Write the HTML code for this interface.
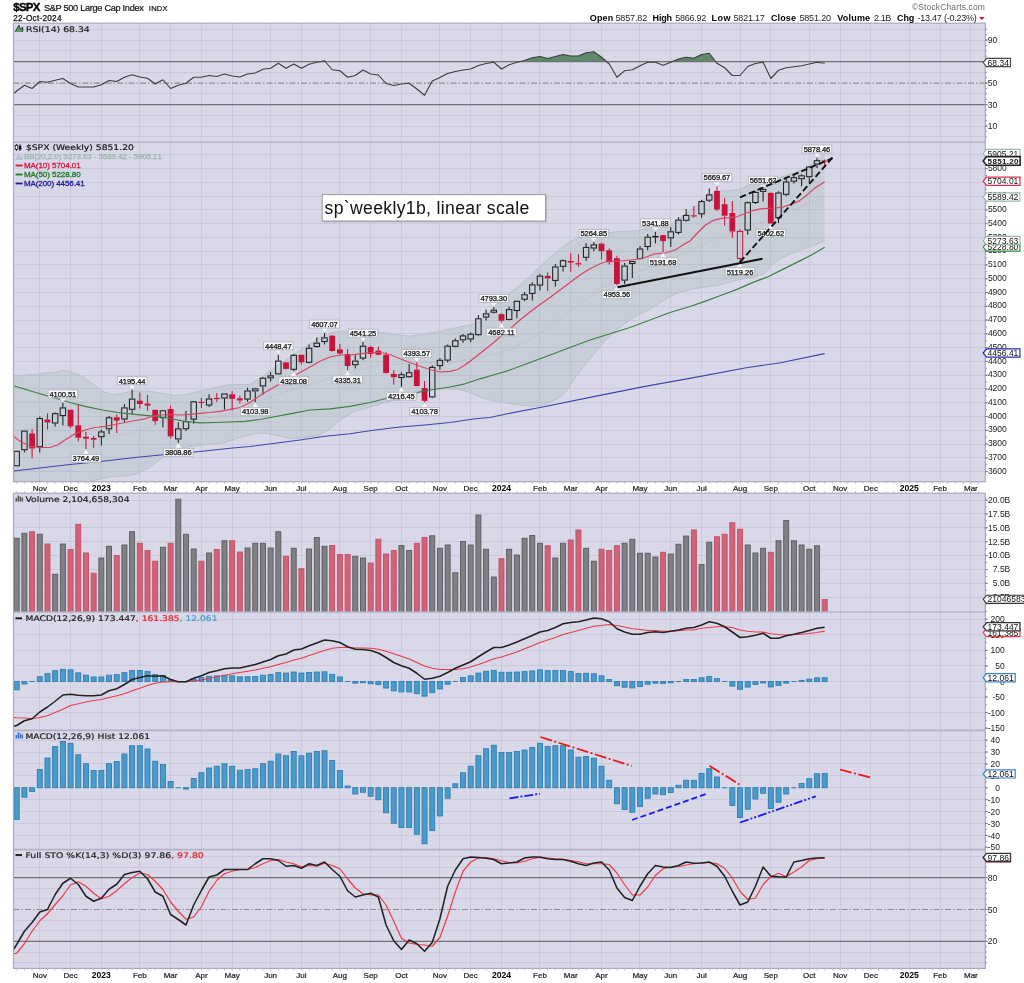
<!DOCTYPE html>
<html><head><meta charset="utf-8"><title>$SPX weekly</title>
<style>html,body{margin:0;padding:0;background:#fff}svg text{font-family:"Liberation Sans",sans-serif}</style></head>
<body>
<svg width="1024" height="983" viewBox="0 0 1024 983" style="display:block">
<rect width="1024" height="983" fill="#fff"/>
<rect x="13.5" y="23.2" width="971.8" height="458.5" fill="#d9d8e9"/>
<rect x="13.5" y="493.2" width="971.8" height="475.2" fill="#d9d8e9"/>
<path d="M13.5 29.5H985.3M13.5 40.5H985.3M13.5 50.5H985.3M13.5 72.5H985.3M13.5 93.5H985.3M13.5 115.5H985.3M13.5 126.5H985.3M13.5 136.5H985.3" stroke="#cac9dc" stroke-width="1" fill="none"/>
<path d="M13.5 471.5H985.3M13.5 457.5H985.3M13.5 444.5H985.3M13.5 430.5H985.3M13.5 416.5H985.3M13.5 402.5H985.3M13.5 388.5H985.3M13.5 375.5H985.3M13.5 361.5H985.3M13.5 347.5H985.3M13.5 333.5H985.3M13.5 320.5H985.3M13.5 306.5H985.3M13.5 292.5H985.3M13.5 278.5H985.3M13.5 264.5H985.3M13.5 251.5H985.3M13.5 237.5H985.3M13.5 223.5H985.3M13.5 209.5H985.3M13.5 196.5H985.3M13.5 182.5H985.3M13.5 168.5H985.3M13.5 154.5H985.3" stroke="#cac9dc" stroke-width="1" fill="none"/>
<path d="M13.5 597.5H985.3M13.5 583.5H985.3M13.5 569.5H985.3M13.5 555.5H985.3M13.5 541.5H985.3M13.5 527.5H985.3M13.5 513.5H985.3M13.5 500.5H985.3" stroke="#cac9dc" stroke-width="1" fill="none"/>
<path d="M13.5 619.5H985.3M13.5 634.5H985.3M13.5 650.5H985.3M13.5 665.5H985.3M13.5 681.5H985.3M13.5 697.5H985.3M13.5 712.5H985.3" stroke="#cac9dc" stroke-width="1" fill="none"/>
<path d="M13.5 740.5H985.3M13.5 752.5H985.3M13.5 763.5H985.3M13.5 775.5H985.3M13.5 787.5H985.3M13.5 799.5H985.3M13.5 811.5H985.3M13.5 823.5H985.3M13.5 835.5H985.3" stroke="#cac9dc" stroke-width="1" fill="none"/>
<path d="M13.5 856.5H985.3M13.5 867.5H985.3M13.5 888.5H985.3M13.5 898.5H985.3M13.5 920.5H985.3M13.5 930.5H985.3M13.5 952.5H985.3M13.5 962.5H985.3" stroke="#cac9dc" stroke-width="1" fill="none"/>
<path d="M39.5 23.2V481.7M39.5 493.2V968.4M70.5 23.2V481.7M70.5 493.2V968.4M101.5 23.2V481.7M101.5 493.2V968.4M139.5 23.2V481.7M139.5 493.2V968.4M170.5 23.2V481.7M170.5 493.2V968.4M201.5 23.2V481.7M201.5 493.2V968.4M232.5 23.2V481.7M232.5 493.2V968.4M270.5 23.2V481.7M270.5 493.2V968.4M301.5 23.2V481.7M301.5 493.2V968.4M339.5 23.2V481.7M339.5 493.2V968.4M370.5 23.2V481.7M370.5 493.2V968.4M401.5 23.2V481.7M401.5 493.2V968.4M439.5 23.2V481.7M439.5 493.2V968.4M470.5 23.2V481.7M470.5 493.2V968.4M501.5 23.2V481.7M501.5 493.2V968.4M539.5 23.2V481.7M539.5 493.2V968.4M570.5 23.2V481.7M570.5 493.2V968.4M601.5 23.2V481.7M601.5 493.2V968.4M639.5 23.2V481.7M639.5 493.2V968.4M670.5 23.2V481.7M670.5 493.2V968.4M701.5 23.2V481.7M701.5 493.2V968.4M740.5 23.2V481.7M740.5 493.2V968.4M770.5 23.2V481.7M770.5 493.2V968.4M809.5 23.2V481.7M809.5 493.2V968.4M840.5 23.2V481.7M840.5 493.2V968.4M870.5 23.2V481.7M870.5 493.2V968.4M909.5 23.2V481.7M909.5 493.2V968.4M940.5 23.2V481.7M940.5 493.2V968.4M970.5 23.2V481.7M970.5 493.2V968.4" stroke="#cac9dc" stroke-width="1" fill="none"/>
<g id="rsi">
<polygon points="320.14,61.6 324.5,60.75 325.23,61.6" fill="#5f8a6a"/>
<polygon points="519.73,61.6 524.57,60.5 532.27,57.75 539.96,56.5 547.66,58.5 555.35,56.5 563.05,54.5 570.74,56 578.44,56 586.13,52.75 593.83,51.75 601.52,57.25 606.48,61.6" fill="#5f8a6a"/>
<polygon points="672.31,61.6 678.47,59 686.17,57.25 693.86,58.25 701.56,54.5 709.25,53.25 715.68,61.6" fill="#5f8a6a"/>
<path d="M13.5 61.6H985.3M13.5 104.6H985.3" stroke="#707078" stroke-width="1.1" fill="none"/>
<path d="M13.5 83.1H985.3" stroke="#8c8c94" stroke-width="1.2" stroke-dasharray="6 2 1.5 2" fill="none"/>
<polyline points="13.5,93.5 16.7,91 24.39,85.25 32.09,88.5 39.78,81.5 47.48,82.25 55.17,80.25 62.87,78.5 70.56,83.5 78.26,87 85.95,87 93.65,87 101.35,84.75 109.04,80.5 116.73,81.5 124.43,77.25 132.12,74.75 139.82,77 147.51,78.25 155.21,84 162.91,79.75 170.6,88.5 178.29,85.25 185.99,83.25 193.69,77.25 201.38,77.25 209.07,75.5 216.77,76.5 224.47,74 232.16,76 239.85,77 247.55,74 255.25,73 262.94,69.25 270.63,68.25 278.33,63.25 286.02,68.25 293.72,64 301.42,68.25 309.11,64.25 316.81,62.25 324.5,60.75 332.19,69.75 339.89,70.75 347.58,77.25 355.28,75.5 362.98,70 370.67,74 378.37,75 386.06,83.5 393.75,85.5 401.45,84 409.14,83.25 416.84,89 424.54,95.25 432.23,81 439.93,77.5 447.62,73.5 455.31,71.5 463.01,70 470.7,69 478.4,65.5 486.1,63.5 493.79,62.25 501.49,69 509.18,64.75 516.88,62.25 524.57,60.5 532.27,57.75 539.96,56.5 547.66,58.5 555.35,56.5 563.05,54.5 570.74,56 578.44,56 586.13,52.75 593.83,51.75 601.52,57.25 609.22,64 616.91,77.25 624.61,70.75 632.3,69.75 640,65.75 647.69,62.25 655.39,62.25 663.08,65.25 670.78,62.25 678.47,59 686.17,57.25 693.86,58.25 701.56,54.5 709.25,53.25 716.95,63.25 724.64,67.75 732.34,75.5 740.03,75.5 747.73,66.5 755.42,63.5 763.12,62.25 770.81,78.5 778.51,70.25 786.2,67.75 793.9,66.75 801.59,65.75 809.29,64 816.98,62.25 824.68,63.3" fill="none" stroke="#3c3c3c" stroke-width="1.1" stroke-linejoin="round"/>
</g>
<g id="price">
<clipPath id="cp"><rect x="13.5" y="142.2" width="971.8" height="339.5"/></clipPath>
<polygon points="13.5,375.8 25,375 40,373.8 55,372 63.8,370.5 72.5,372 82.5,376.3 92.5,383.8 102.5,391.3 112.5,394.5 122.5,393.3 135,390.8 150,391.3 165,393.8 175,395.5 185,394.5 200,391.3 215,387.5 227.5,385 240,384.5 250,384.5 262.5,376.3 275,367.5 287.5,358.8 300,350 310,343.8 320,337.5 330,333 340,331.3 355,330.8 370,331.3 385,333 400,335 410,336.3 425,333.8 440,331.3 455,328 470,325 480,321.3 490,312 500,301 510,292.5 520,285 530,276.3 540,266.3 550,257.5 560,248.8 570,241.3 580,237 590,235 600,233.8 610,232.5 620,231.3 630,231.3 640,230 650,228.3 660,226.3 667,228 677.6,219.7 686.4,213.6 695.2,206.5 705.7,197.7 716.2,191.6 730.3,190.4 740.9,189 747.9,185.4 758.4,182 772.5,179.3 783,176.6 793.6,173.1 804.1,168.7 811.2,164.3 818.2,160 824.6,154.1 824.6,241.1 811,246.4 799.4,250.4 787.7,255.2 779.8,259.1 772,265 764.2,273.8 754.5,276.7 735,280.6 717.3,285.5 701.7,287.5 690,289.5 675,294 665,299.5 655,306.3 645,311.5 635,317 625,323.5 615,331.3 605,341.3 595,352.5 585,365 575,378 568.6,388 560,397 552,401.5 541.3,405.4 531,406.1 510.5,403.7 500,402 490,400.2 480,397 470,392.5 460,389.5 445,388.8 430,390 415,393.8 400,398.8 385,402.5 370,407 355,411.3 340,420 330,428.8 320,435 305,437.5 292.5,438.8 280,436.3 265,433 255,433.8 240,437.5 225,442.5 212,444 200,445.5 187,447 175,450 162.5,457.5 150,467 137.5,473.8 125,476 109.6,477 93,480.4 90,481.5 13.5,481.5" fill="#c7ced8" stroke="none" clip-path="url(#cp)"/>
<polyline points="13.5,375.8 25,375 40,373.8 55,372 63.8,370.5 72.5,372 82.5,376.3 92.5,383.8 102.5,391.3 112.5,394.5 122.5,393.3 135,390.8 150,391.3 165,393.8 175,395.5 185,394.5 200,391.3 215,387.5 227.5,385 240,384.5 250,384.5 262.5,376.3 275,367.5 287.5,358.8 300,350 310,343.8 320,337.5 330,333 340,331.3 355,330.8 370,331.3 385,333 400,335 410,336.3 425,333.8 440,331.3 455,328 470,325 480,321.3 490,312 500,301 510,292.5 520,285 530,276.3 540,266.3 550,257.5 560,248.8 570,241.3 580,237 590,235 600,233.8 610,232.5 620,231.3 630,231.3 640,230 650,228.3 660,226.3 667,228 677.6,219.7 686.4,213.6 695.2,206.5 705.7,197.7 716.2,191.6 730.3,190.4 740.9,189 747.9,185.4 758.4,182 772.5,179.3 783,176.6 793.6,173.1 804.1,168.7 811.2,164.3 818.2,160 824.6,154.1" fill="none" stroke="#b9c0ca" stroke-width="1" clip-path="url(#cp)"/>
<polyline points="13.5,481.5 90,481.5 93,480.4 109.6,477 125,476 137.5,473.8 150,467 162.5,457.5 175,450 187,447 200,445.5 212,444 225,442.5 240,437.5 255,433.8 265,433 280,436.3 292.5,438.8 305,437.5 320,435 330,428.8 340,420 355,411.3 370,407 385,402.5 400,398.8 415,393.8 430,390 445,388.8 460,389.5 470,392.5 480,397 490,400.2 500,402 510.5,403.7 531,406.1 541.3,405.4 552,401.5 560,397 568.6,388 575,378 585,365 595,352.5 605,341.3 615,331.3 625,323.5 635,317 645,311.5 655,306.3 665,299.5 675,294 690,289.5 701.7,287.5 717.3,285.5 735,280.6 754.5,276.7 764.2,273.8 772,265 779.8,259.1 787.7,255.2 799.4,250.4 811,246.4 824.6,241.1" fill="none" stroke="#b9c0ca" stroke-width="1" clip-path="url(#cp)"/>
<clipPath id="cb"><polygon points="13.5,375.8 25,375 40,373.8 55,372 63.8,370.5 72.5,372 82.5,376.3 92.5,383.8 102.5,391.3 112.5,394.5 122.5,393.3 135,390.8 150,391.3 165,393.8 175,395.5 185,394.5 200,391.3 215,387.5 227.5,385 240,384.5 250,384.5 262.5,376.3 275,367.5 287.5,358.8 300,350 310,343.8 320,337.5 330,333 340,331.3 355,330.8 370,331.3 385,333 400,335 410,336.3 425,333.8 440,331.3 455,328 470,325 480,321.3 490,312 500,301 510,292.5 520,285 530,276.3 540,266.3 550,257.5 560,248.8 570,241.3 580,237 590,235 600,233.8 610,232.5 620,231.3 630,231.3 640,230 650,228.3 660,226.3 667,228 677.6,219.7 686.4,213.6 695.2,206.5 705.7,197.7 716.2,191.6 730.3,190.4 740.9,189 747.9,185.4 758.4,182 772.5,179.3 783,176.6 793.6,173.1 804.1,168.7 811.2,164.3 818.2,160 824.6,154.1 824.6,241.1 811,246.4 799.4,250.4 787.7,255.2 779.8,259.1 772,265 764.2,273.8 754.5,276.7 735,280.6 717.3,285.5 701.7,287.5 690,289.5 675,294 665,299.5 655,306.3 645,311.5 635,317 625,323.5 615,331.3 605,341.3 595,352.5 585,365 575,378 568.6,388 560,397 552,401.5 541.3,405.4 531,406.1 510.5,403.7 500,402 490,400.2 480,397 470,392.5 460,389.5 445,388.8 430,390 415,393.8 400,398.8 385,402.5 370,407 355,411.3 340,420 330,428.8 320,435 305,437.5 292.5,438.8 280,436.3 265,433 255,433.8 240,437.5 225,442.5 212,444 200,445.5 187,447 175,450 162.5,457.5 150,467 137.5,473.8 125,476 109.6,477 93,480.4 90,481.5 13.5,481.5"/></clipPath>
<g clip-path="url(#cp)"><path d="M13.5 471.5H985.3M13.5 457.5H985.3M13.5 444.5H985.3M13.5 430.5H985.3M13.5 416.5H985.3M13.5 402.5H985.3M13.5 388.5H985.3M13.5 375.5H985.3M13.5 361.5H985.3M13.5 347.5H985.3M13.5 333.5H985.3M13.5 320.5H985.3M13.5 306.5H985.3M13.5 292.5H985.3M13.5 278.5H985.3M13.5 264.5H985.3M13.5 251.5H985.3M13.5 237.5H985.3M13.5 223.5H985.3M13.5 209.5H985.3M13.5 196.5H985.3M13.5 182.5H985.3M13.5 168.5H985.3M13.5 154.5H985.3M39.5 142.2V481.7M70.5 142.2V481.7M101.5 142.2V481.7M139.5 142.2V481.7M170.5 142.2V481.7M201.5 142.2V481.7M232.5 142.2V481.7M270.5 142.2V481.7M301.5 142.2V481.7M339.5 142.2V481.7M370.5 142.2V481.7M401.5 142.2V481.7M439.5 142.2V481.7M470.5 142.2V481.7M501.5 142.2V481.7M539.5 142.2V481.7M570.5 142.2V481.7M601.5 142.2V481.7M639.5 142.2V481.7M670.5 142.2V481.7M701.5 142.2V481.7M740.5 142.2V481.7M770.5 142.2V481.7M809.5 142.2V481.7M840.5 142.2V481.7M870.5 142.2V481.7M909.5 142.2V481.7M940.5 142.2V481.7M970.5 142.2V481.7" stroke="#bcc1cf" stroke-width="1" fill="none" clip-path="url(#cb)"/></g>
<polyline points="13.5,431.3 40,426.3 55,427 63.8,425 80,431.3 102.5,436.3 122.5,435 150,427.5 165,420 185,418.8 210,417.5 235,413.8 250,406 275,395 300,387.5 320,381.3 340,375 360,370 380,365 400,363.8 425,362.5 450,362.5 470,358.8 490,355 515,347.5 540,333.8 565,315 590,296.3 610,282.5 630,273.8 650,267.5 670,260 690,250.5 709.5,241.6 729,233.4 748.6,226.9 768.1,220 783.8,214.2 799.4,207.4 811,202.5 824.6,197.6" fill="none" stroke="#b8b8c0" stroke-width="1" stroke-dasharray="1.5 2"/>
<path d="M16.7 450.8V450.8M16.7 466.3V466.3" stroke="#1e1e1e" stroke-width="1.05" fill="none"/>
<rect x="14" y="451.3" width="5.4" height="14.5" fill="none" stroke="#1e1e1e" stroke-width="1.05"/>
<path d="M24.39 430.6V430.6M24.39 450.2V452.5" stroke="#1e1e1e" stroke-width="1.05" fill="none"/>
<rect x="21.7" y="431.1" width="5.4" height="18.6" fill="none" stroke="#1e1e1e" stroke-width="1.05"/>
<path d="M32.09 428.9V433.4M32.09 448.5V458.5" stroke="#c8143c" stroke-width="1.05" fill="none"/>
<rect x="29.19" y="433.4" width="5.8" height="15.1" fill="#c8143c"/>
<path d="M39.78 416.5V418.1M39.78 447.2V452.5" stroke="#1e1e1e" stroke-width="1.05" fill="none"/>
<rect x="37.08" y="418.6" width="5.4" height="28.1" fill="none" stroke="#1e1e1e" stroke-width="1.05"/>
<path d="M47.48 413.5V419.5M47.48 422.5V429.4" stroke="#c8143c" stroke-width="1.05" fill="none"/>
<rect x="44.58" y="419.5" width="5.8" height="3" fill="#c8143c"/>
<path d="M55.17 412.4V413.2M55.17 423.5V426.4" stroke="#1e1e1e" stroke-width="1.05" fill="none"/>
<rect x="52.47" y="413.7" width="5.4" height="9.3" fill="none" stroke="#1e1e1e" stroke-width="1.05"/>
<path d="M62.87 402.7V407.4M62.87 416.1V425.6" stroke="#1e1e1e" stroke-width="1.05" fill="none"/>
<rect x="60.17" y="407.9" width="5.4" height="7.7" fill="none" stroke="#1e1e1e" stroke-width="1.05"/>
<path d="M70.56 409.3V409.8M70.56 426.4V428.1" stroke="#c8143c" stroke-width="1.05" fill="none"/>
<rect x="67.66" y="409.8" width="5.8" height="16.6" fill="#c8143c"/>
<path d="M78.26 404V425.3M78.26 437.7V441.4" stroke="#c8143c" stroke-width="1.05" fill="none"/>
<rect x="75.36" y="425.3" width="5.8" height="12.4" fill="#c8143c"/>
<path d="M85.95 431.8V436.7M85.95 438.7V448.9" stroke="#c8143c" stroke-width="1.05" fill="none"/>
<rect x="83.05" y="436.7" width="5.8" height="2" fill="#c8143c"/>
<path d="M93.65 436V438M93.65 439.7V447.7" stroke="#c8143c" stroke-width="1.05" fill="none"/>
<rect x="90.75" y="438" width="5.8" height="1.7" fill="#c8143c"/>
<path d="M101.35 429.4V431.4M101.35 437.2V445.5" stroke="#1e1e1e" stroke-width="1.05" fill="none"/>
<rect x="98.65" y="431.9" width="5.4" height="4.8" fill="none" stroke="#1e1e1e" stroke-width="1.05"/>
<path d="M109.04 416.1V417.3M109.04 429.3V433.9" stroke="#1e1e1e" stroke-width="1.05" fill="none"/>
<rect x="106.34" y="417.8" width="5.4" height="11" fill="none" stroke="#1e1e1e" stroke-width="1.05"/>
<path d="M116.73 414.5V417.3M116.73 420.6V433.1" stroke="#c8143c" stroke-width="1.05" fill="none"/>
<rect x="113.83" y="417.3" width="5.8" height="3.3" fill="#c8143c"/>
<path d="M124.43 404V407.4M124.43 419.5V423.1" stroke="#1e1e1e" stroke-width="1.05" fill="none"/>
<rect x="121.73" y="407.9" width="5.4" height="11.1" fill="none" stroke="#1e1e1e" stroke-width="1.05"/>
<path d="M132.12 389.6V398.6M132.12 409.8V414.8" stroke="#1e1e1e" stroke-width="1.05" fill="none"/>
<rect x="129.43" y="399.1" width="5.4" height="10.2" fill="none" stroke="#1e1e1e" stroke-width="1.05"/>
<path d="M139.82 392.4V400.7M139.82 404V408.5" stroke="#c8143c" stroke-width="1.05" fill="none"/>
<rect x="136.92" y="400.7" width="5.8" height="3.3" fill="#c8143c"/>
<path d="M147.51 394.9V403.5M147.51 405.7V410.7" stroke="#c8143c" stroke-width="1.05" fill="none"/>
<rect x="144.61" y="403.5" width="5.8" height="2.2" fill="#c8143c"/>
<path d="M155.21 409.8V409.8M155.21 421.1V424.8" stroke="#c8143c" stroke-width="1.05" fill="none"/>
<rect x="152.31" y="409.8" width="5.8" height="11.3" fill="#c8143c"/>
<path d="M162.91 410.3V410.3M162.91 418.1V427.3" stroke="#1e1e1e" stroke-width="1.05" fill="none"/>
<rect x="160.21" y="410.8" width="5.4" height="6.8" fill="none" stroke="#1e1e1e" stroke-width="1.05"/>
<path d="M170.6 405.7V409M170.6 436.4V438.6" stroke="#c8143c" stroke-width="1.05" fill="none"/>
<rect x="167.7" y="409" width="5.8" height="27.4" fill="#c8143c"/>
<path d="M178.29 422.3V428.4M178.29 439.4V442.8" stroke="#1e1e1e" stroke-width="1.05" fill="none"/>
<rect x="175.59" y="428.9" width="5.4" height="10" fill="none" stroke="#1e1e1e" stroke-width="1.05"/>
<path d="M185.99 410.9V421.2M185.99 429.2V431" stroke="#1e1e1e" stroke-width="1.05" fill="none"/>
<rect x="183.29" y="421.7" width="5.4" height="7" fill="none" stroke="#1e1e1e" stroke-width="1.05"/>
<path d="M193.69 401V401.3M193.69 419.6V423.7" stroke="#1e1e1e" stroke-width="1.05" fill="none"/>
<rect x="190.99" y="401.8" width="5.4" height="17.3" fill="none" stroke="#1e1e1e" stroke-width="1.05"/>
<path d="M201.38 398V401.8M201.38 403V407.9" stroke="#c8143c" stroke-width="1.05" fill="none"/>
<rect x="198.48" y="401.8" width="5.8" height="1.2" fill="#c8143c"/>
<path d="M209.07 394.3V398.5M209.07 405.5V407.1" stroke="#1e1e1e" stroke-width="1.05" fill="none"/>
<rect x="206.38" y="399" width="5.4" height="6" fill="none" stroke="#1e1e1e" stroke-width="1.05"/>
<path d="M216.77 393V397.95M216.77 399.15V402.1" stroke="#c8143c" stroke-width="1.05" fill="none"/>
<rect x="213.87" y="397.95" width="5.8" height="1.2" fill="#c8143c"/>
<path d="M224.47 393.5V393.5M224.47 398.5V409.6" stroke="#1e1e1e" stroke-width="1.05" fill="none"/>
<rect x="221.77" y="394" width="5.4" height="4" fill="none" stroke="#1e1e1e" stroke-width="1.05"/>
<path d="M232.16 391V394.3M232.16 398.8V410.4" stroke="#c8143c" stroke-width="1.05" fill="none"/>
<rect x="229.26" y="394.3" width="5.8" height="4.5" fill="#c8143c"/>
<path d="M239.85 395.5V398.3M239.85 400.5V403.5" stroke="#c8143c" stroke-width="1.05" fill="none"/>
<rect x="236.95" y="398.3" width="5.8" height="2.2" fill="#c8143c"/>
<path d="M247.55 387.7V390.5M247.55 399.6V401.8" stroke="#1e1e1e" stroke-width="1.05" fill="none"/>
<rect x="244.85" y="391" width="5.4" height="8.1" fill="none" stroke="#1e1e1e" stroke-width="1.05"/>
<path d="M255.25 388V388.4M255.25 391.4V402.2" stroke="#1e1e1e" stroke-width="1.05" fill="none"/>
<rect x="252.55" y="388.9" width="5.4" height="2" fill="none" stroke="#1e1e1e" stroke-width="1.05"/>
<path d="M262.94 377V377.7M262.94 386.4V394.7" stroke="#1e1e1e" stroke-width="1.05" fill="none"/>
<rect x="260.24" y="378.2" width="5.4" height="7.7" fill="none" stroke="#1e1e1e" stroke-width="1.05"/>
<path d="M270.63 372.3V375.35M270.63 378.35V381.4" stroke="#1e1e1e" stroke-width="1.05" fill="none"/>
<rect x="267.94" y="375.85" width="5.4" height="2" fill="none" stroke="#1e1e1e" stroke-width="1.05"/>
<path d="M278.33 354.7V360.6M278.33 374.4V374.4" stroke="#1e1e1e" stroke-width="1.05" fill="none"/>
<rect x="275.63" y="361.1" width="5.4" height="12.8" fill="none" stroke="#1e1e1e" stroke-width="1.05"/>
<path d="M286.02 361.9V362.3M286.02 368.9V369.6" stroke="#c8143c" stroke-width="1.05" fill="none"/>
<rect x="283.12" y="362.3" width="5.8" height="6.6" fill="#c8143c"/>
<path d="M293.72 354V354.8M293.72 369.8V371.3" stroke="#1e1e1e" stroke-width="1.05" fill="none"/>
<rect x="291.02" y="355.3" width="5.4" height="14" fill="none" stroke="#1e1e1e" stroke-width="1.05"/>
<path d="M301.42 354.5V354.8M301.42 362.3V364.4" stroke="#c8143c" stroke-width="1.05" fill="none"/>
<rect x="298.52" y="354.8" width="5.8" height="7.5" fill="#c8143c"/>
<path d="M309.11 344.5V347.8M309.11 362.8V363.3" stroke="#1e1e1e" stroke-width="1.05" fill="none"/>
<rect x="306.41" y="348.3" width="5.4" height="14" fill="none" stroke="#1e1e1e" stroke-width="1.05"/>
<path d="M316.81 337.4V342.7M316.81 347V347.8" stroke="#1e1e1e" stroke-width="1.05" fill="none"/>
<rect x="314.11" y="343.2" width="5.4" height="3.3" fill="none" stroke="#1e1e1e" stroke-width="1.05"/>
<path d="M324.5 332.9V337.4M324.5 342V344.5" stroke="#1e1e1e" stroke-width="1.05" fill="none"/>
<rect x="321.8" y="337.9" width="5.4" height="3.6" fill="none" stroke="#1e1e1e" stroke-width="1.05"/>
<path d="M332.19 335V335.7M332.19 351V351.7" stroke="#c8143c" stroke-width="1.05" fill="none"/>
<rect x="329.3" y="335.7" width="5.8" height="15.3" fill="#c8143c"/>
<path d="M339.89 344V349.3M339.89 353.5V355.6" stroke="#c8143c" stroke-width="1.05" fill="none"/>
<rect x="336.99" y="349.3" width="5.8" height="4.2" fill="#c8143c"/>
<path d="M347.58 349V354M347.58 366V370.3" stroke="#c8143c" stroke-width="1.05" fill="none"/>
<rect x="344.69" y="354" width="5.8" height="12" fill="#c8143c"/>
<path d="M355.28 354.8V360.6M355.28 365.2V368.4" stroke="#1e1e1e" stroke-width="1.05" fill="none"/>
<rect x="352.58" y="361.1" width="5.4" height="3.6" fill="none" stroke="#1e1e1e" stroke-width="1.05"/>
<path d="M362.98 342V345.7M362.98 358.6V360.3" stroke="#1e1e1e" stroke-width="1.05" fill="none"/>
<rect x="360.28" y="346.2" width="5.4" height="11.9" fill="none" stroke="#1e1e1e" stroke-width="1.05"/>
<path d="M370.67 345.7V347M370.67 354V357.8" stroke="#c8143c" stroke-width="1.05" fill="none"/>
<rect x="367.77" y="347" width="5.8" height="7" fill="#c8143c"/>
<path d="M378.37 346.5V350.6M378.37 354.8V355.3" stroke="#c8143c" stroke-width="1.05" fill="none"/>
<rect x="375.47" y="350.6" width="5.8" height="4.2" fill="#c8143c"/>
<path d="M386.06 352.3V354.8M386.06 373V373.4" stroke="#c8143c" stroke-width="1.05" fill="none"/>
<rect x="383.16" y="354.8" width="5.8" height="18.2" fill="#c8143c"/>
<path d="M393.75 370.2V373.9M393.75 377.2V384.7" stroke="#c8143c" stroke-width="1.05" fill="none"/>
<rect x="390.86" y="373.9" width="5.8" height="3.3" fill="#c8143c"/>
<path d="M401.45 372.2V374.2M401.45 378V386.7" stroke="#1e1e1e" stroke-width="1.05" fill="none"/>
<rect x="398.75" y="374.7" width="5.4" height="2.8" fill="none" stroke="#1e1e1e" stroke-width="1.05"/>
<path d="M409.14 363.9V372.2M409.14 377.2V377.7" stroke="#1e1e1e" stroke-width="1.05" fill="none"/>
<rect x="406.44" y="372.7" width="5.4" height="4" fill="none" stroke="#1e1e1e" stroke-width="1.05"/>
<path d="M416.84 362.3V369.7M416.84 386V386.3" stroke="#c8143c" stroke-width="1.05" fill="none"/>
<rect x="413.94" y="369.7" width="5.8" height="16.3" fill="#c8143c"/>
<path d="M424.54 381V388M424.54 400.9V402.2" stroke="#c8143c" stroke-width="1.05" fill="none"/>
<rect x="421.64" y="388" width="5.8" height="12.9" fill="#c8143c"/>
<path d="M432.23 365.2V366.9M432.23 397.4V398.3" stroke="#1e1e1e" stroke-width="1.05" fill="none"/>
<rect x="429.53" y="367.4" width="5.4" height="29.5" fill="none" stroke="#1e1e1e" stroke-width="1.05"/>
<path d="M439.93 358.1V359.8M439.93 366.1V369.7" stroke="#1e1e1e" stroke-width="1.05" fill="none"/>
<rect x="437.23" y="360.3" width="5.4" height="5.3" fill="none" stroke="#1e1e1e" stroke-width="1.05"/>
<path d="M447.62 344.5V345.7M447.62 360.6V362.3" stroke="#1e1e1e" stroke-width="1.05" fill="none"/>
<rect x="444.92" y="346.2" width="5.4" height="13.9" fill="none" stroke="#1e1e1e" stroke-width="1.05"/>
<path d="M455.31 338.5V340.3M455.31 346.8V347.3" stroke="#1e1e1e" stroke-width="1.05" fill="none"/>
<rect x="452.62" y="340.8" width="5.4" height="5.5" fill="none" stroke="#1e1e1e" stroke-width="1.05"/>
<path d="M463.01 334V335.4M463.01 340.3V342.8" stroke="#1e1e1e" stroke-width="1.05" fill="none"/>
<rect x="460.31" y="335.9" width="5.4" height="3.9" fill="none" stroke="#1e1e1e" stroke-width="1.05"/>
<path d="M470.7 332.4V333.7M470.7 339.5V342.3" stroke="#1e1e1e" stroke-width="1.05" fill="none"/>
<rect x="468" y="334.2" width="5.4" height="4.8" fill="none" stroke="#1e1e1e" stroke-width="1.05"/>
<path d="M478.4 314.9V318.3M478.4 335.2V335.7" stroke="#1e1e1e" stroke-width="1.05" fill="none"/>
<rect x="475.7" y="318.8" width="5.4" height="15.9" fill="none" stroke="#1e1e1e" stroke-width="1.05"/>
<path d="M486.1 309.8V313.4M486.1 317.5V320.5" stroke="#1e1e1e" stroke-width="1.05" fill="none"/>
<rect x="483.4" y="313.9" width="5.4" height="3.1" fill="none" stroke="#1e1e1e" stroke-width="1.05"/>
<path d="M493.79 307.2V309.7M493.79 312.7V313.4" stroke="#1e1e1e" stroke-width="1.05" fill="none"/>
<rect x="491.09" y="310.2" width="5.4" height="2" fill="none" stroke="#1e1e1e" stroke-width="1.05"/>
<path d="M501.49 313.4V314.1M501.49 320.7V322.6" stroke="#c8143c" stroke-width="1.05" fill="none"/>
<rect x="498.59" y="314.1" width="5.8" height="6.6" fill="#c8143c"/>
<path d="M509.18 306.8V309.1M509.18 319.9V320.4" stroke="#1e1e1e" stroke-width="1.05" fill="none"/>
<rect x="506.48" y="309.6" width="5.4" height="9.8" fill="none" stroke="#1e1e1e" stroke-width="1.05"/>
<path d="M516.88 300.5V300.8M516.88 311V318.3" stroke="#1e1e1e" stroke-width="1.05" fill="none"/>
<rect x="514.17" y="301.3" width="5.4" height="9.2" fill="none" stroke="#1e1e1e" stroke-width="1.05"/>
<path d="M524.57 291.9V294.3M524.57 299.7V301.3" stroke="#1e1e1e" stroke-width="1.05" fill="none"/>
<rect x="521.87" y="294.8" width="5.4" height="4.4" fill="none" stroke="#1e1e1e" stroke-width="1.05"/>
<path d="M532.27 282.2V284.4M532.27 293.9V300.5" stroke="#1e1e1e" stroke-width="1.05" fill="none"/>
<rect x="529.57" y="284.9" width="5.4" height="8.5" fill="none" stroke="#1e1e1e" stroke-width="1.05"/>
<path d="M539.96 273.9V275.6M539.96 285.6V290.5" stroke="#1e1e1e" stroke-width="1.05" fill="none"/>
<rect x="537.26" y="276.1" width="5.4" height="9" fill="none" stroke="#1e1e1e" stroke-width="1.05"/>
<path d="M547.66 272.3V275.9M547.66 278.4V290.9" stroke="#c8143c" stroke-width="1.05" fill="none"/>
<rect x="544.76" y="275.9" width="5.8" height="2.5" fill="#c8143c"/>
<path d="M555.35 264V266.5M555.35 280.9V286.4" stroke="#1e1e1e" stroke-width="1.05" fill="none"/>
<rect x="552.65" y="267" width="5.4" height="13.4" fill="none" stroke="#1e1e1e" stroke-width="1.05"/>
<path d="M563.05 259.5V260.2M563.05 266.8V271.4" stroke="#1e1e1e" stroke-width="1.05" fill="none"/>
<rect x="560.35" y="260.7" width="5.4" height="5.6" fill="none" stroke="#1e1e1e" stroke-width="1.05"/>
<path d="M570.74 253.2V261M570.74 262.6V271.8" stroke="#c8143c" stroke-width="1.05" fill="none"/>
<rect x="567.84" y="261" width="5.8" height="1.6" fill="#c8143c"/>
<path d="M578.44 254.3V263.1M578.44 264.5V266.8" stroke="#c8143c" stroke-width="1.05" fill="none"/>
<rect x="575.54" y="263.1" width="5.8" height="1.4" fill="#c8143c"/>
<path d="M586.13 242.9V246.9M586.13 257.8V261.1" stroke="#1e1e1e" stroke-width="1.05" fill="none"/>
<rect x="583.43" y="247.4" width="5.4" height="9.9" fill="none" stroke="#1e1e1e" stroke-width="1.05"/>
<path d="M593.83 242.3V244.4M593.83 248.5V251.2" stroke="#1e1e1e" stroke-width="1.05" fill="none"/>
<rect x="591.12" y="244.9" width="5.4" height="3.1" fill="none" stroke="#1e1e1e" stroke-width="1.05"/>
<path d="M601.52 242.4V243.6M601.52 251.2V259.5" stroke="#c8143c" stroke-width="1.05" fill="none"/>
<rect x="598.62" y="243.6" width="5.8" height="7.6" fill="#c8143c"/>
<path d="M609.22 248.2V250.2M609.22 262.3V264.5" stroke="#c8143c" stroke-width="1.05" fill="none"/>
<rect x="606.32" y="250.2" width="5.8" height="12.1" fill="#c8143c"/>
<path d="M616.91 255.7V258.2M616.91 283.9V285.2" stroke="#c8143c" stroke-width="1.05" fill="none"/>
<rect x="614.01" y="258.2" width="5.8" height="25.7" fill="#c8143c"/>
<path d="M624.61 263.1V265.6M624.61 280.6V283.9" stroke="#1e1e1e" stroke-width="1.05" fill="none"/>
<rect x="621.9" y="266.1" width="5.4" height="14" fill="none" stroke="#1e1e1e" stroke-width="1.05"/>
<path d="M632.3 261V261M632.3 264V278.1" stroke="#1e1e1e" stroke-width="1.05" fill="none"/>
<rect x="629.6" y="261.5" width="5.4" height="2" fill="none" stroke="#1e1e1e" stroke-width="1.05"/>
<path d="M640 246V248.5M640 259V259.5" stroke="#1e1e1e" stroke-width="1.05" fill="none"/>
<rect x="637.3" y="249" width="5.4" height="9.5" fill="none" stroke="#1e1e1e" stroke-width="1.05"/>
<path d="M647.69 234V236.7M647.69 247V250.3" stroke="#1e1e1e" stroke-width="1.05" fill="none"/>
<rect x="644.99" y="237.2" width="5.4" height="9.3" fill="none" stroke="#1e1e1e" stroke-width="1.05"/>
<path d="M655.39 231.7V236.05M655.39 237.25V243.6" stroke="#1e1e1e" stroke-width="1.05" fill="none"/>
<rect x="652.69" y="236.55" width="5.4" height="0.4" fill="none" stroke="#1e1e1e" stroke-width="1.05"/>
<path d="M663.08 234.8V235.2M663.08 241.1V252.4" stroke="#c8143c" stroke-width="1.05" fill="none"/>
<rect x="660.18" y="235.2" width="5.8" height="5.9" fill="#c8143c"/>
<path d="M670.78 227V231.3M670.78 238.4V247" stroke="#1e1e1e" stroke-width="1.05" fill="none"/>
<rect x="668.08" y="231.8" width="5.4" height="6.1" fill="none" stroke="#1e1e1e" stroke-width="1.05"/>
<path d="M678.47 217.3V219.6M678.47 232.9V234.5" stroke="#1e1e1e" stroke-width="1.05" fill="none"/>
<rect x="675.77" y="220.1" width="5.4" height="12.3" fill="none" stroke="#1e1e1e" stroke-width="1.05"/>
<path d="M686.17 209.1V214.9M686.17 220.8V221.6" stroke="#1e1e1e" stroke-width="1.05" fill="none"/>
<rect x="683.47" y="215.4" width="5.4" height="4.9" fill="none" stroke="#1e1e1e" stroke-width="1.05"/>
<path d="M693.86 206.1V215.3M693.86 216.5V217.7" stroke="#c8143c" stroke-width="1.05" fill="none"/>
<rect x="690.96" y="215.3" width="5.8" height="1.2" fill="#c8143c"/>
<path d="M701.56 200.1V201.1M701.56 214.3V217.7" stroke="#1e1e1e" stroke-width="1.05" fill="none"/>
<rect x="698.86" y="201.6" width="5.4" height="12.2" fill="none" stroke="#1e1e1e" stroke-width="1.05"/>
<path d="M709.25 188.4V194.4M709.25 200.7V202" stroke="#1e1e1e" stroke-width="1.05" fill="none"/>
<rect x="706.55" y="194.9" width="5.4" height="5.3" fill="none" stroke="#1e1e1e" stroke-width="1.05"/>
<path d="M716.95 186.5V190.9M716.95 209.5V211" stroke="#c8143c" stroke-width="1.05" fill="none"/>
<rect x="714.05" y="190.9" width="5.8" height="18.6" fill="#c8143c"/>
<path d="M724.64 198.1V204.2M724.64 215.7V225.7" stroke="#c8143c" stroke-width="1.05" fill="none"/>
<rect x="721.74" y="204.2" width="5.8" height="11.5" fill="#c8143c"/>
<path d="M732.34 201.1V213M732.34 231.5V237.8" stroke="#c8143c" stroke-width="1.05" fill="none"/>
<rect x="729.44" y="213" width="5.8" height="18.5" fill="#c8143c"/>
<path d="M740.03 229.4V230.9M740.03 258.9V262.3" stroke="#c8143c" stroke-width="1.05" fill="none"/>
<rect x="737.33" y="231.4" width="5.4" height="27" fill="none" stroke="#c8143c" stroke-width="1.05"/>
<path d="M747.73 201.6V202.2M747.73 230.5V234.8" stroke="#1e1e1e" stroke-width="1.05" fill="none"/>
<rect x="745.02" y="202.7" width="5.4" height="27.3" fill="none" stroke="#1e1e1e" stroke-width="1.05"/>
<path d="M755.42 191.3V191.9M755.42 203V204" stroke="#1e1e1e" stroke-width="1.05" fill="none"/>
<rect x="752.72" y="192.4" width="5.4" height="10.1" fill="none" stroke="#1e1e1e" stroke-width="1.05"/>
<path d="M763.12 189V188.9M763.12 191.9V201.6" stroke="#1e1e1e" stroke-width="1.05" fill="none"/>
<rect x="760.42" y="189.4" width="5.4" height="2" fill="none" stroke="#1e1e1e" stroke-width="1.05"/>
<path d="M770.81 192.4V192.9M770.81 223.5V223.8" stroke="#c8143c" stroke-width="1.05" fill="none"/>
<rect x="767.91" y="192.9" width="5.8" height="30.6" fill="#c8143c"/>
<path d="M778.51 191.3V192.5M778.51 218.2V223.1" stroke="#1e1e1e" stroke-width="1.05" fill="none"/>
<rect x="775.81" y="193" width="5.4" height="24.7" fill="none" stroke="#1e1e1e" stroke-width="1.05"/>
<path d="M786.2 178.2V181.5M786.2 194.8V196.2" stroke="#1e1e1e" stroke-width="1.05" fill="none"/>
<rect x="783.5" y="182" width="5.4" height="12.3" fill="none" stroke="#1e1e1e" stroke-width="1.05"/>
<path d="M793.9 174.7V177.2M793.9 181.7V183.5" stroke="#1e1e1e" stroke-width="1.05" fill="none"/>
<rect x="791.2" y="177.7" width="5.4" height="3.5" fill="none" stroke="#1e1e1e" stroke-width="1.05"/>
<path d="M801.59 174.3V175.3M801.59 179.2V186.4" stroke="#1e1e1e" stroke-width="1.05" fill="none"/>
<rect x="798.89" y="175.8" width="5.4" height="2.9" fill="none" stroke="#1e1e1e" stroke-width="1.05"/>
<path d="M809.29 165.9V166.5M809.29 177.2V183.1" stroke="#1e1e1e" stroke-width="1.05" fill="none"/>
<rect x="806.59" y="167" width="5.4" height="9.7" fill="none" stroke="#1e1e1e" stroke-width="1.05"/>
<path d="M816.98 157.8V160.2M816.98 164.5V168" stroke="#1e1e1e" stroke-width="1.05" fill="none"/>
<rect x="814.28" y="160.7" width="5.4" height="3.3" fill="none" stroke="#1e1e1e" stroke-width="1.05"/>
<path d="M824.68 159.4V160.45M824.68 161.65V165.7" stroke="#c8143c" stroke-width="1.05" fill="none"/>
<rect x="821.78" y="160.45" width="5.8" height="1.2" fill="#c8143c"/>
<polyline points="13.5,471 40,468 70,464.5 100,461.5 135,457.5 165,454.5 200,451.5 230,448.3 250,446.5 275,443.3 300,440 325,436.3 350,433.8 375,430 400,427 425,425 450,422.5 475,418.8 490,417.5 506,414 541.3,407.2 592.5,396.9 643.8,386.6 695,377.4 746.3,367.8 780.5,362.7 824.6,353.6" fill="none" stroke="#3f46a8" stroke-width="1.15" stroke-linejoin="round"/>
<polyline points="13.5,385.8 25,389.3 40,393.8 55,398 70,402.5 85,406.3 102.5,410 117.5,412.5 135,414.3 150,415.8 165,417.5 175,419.5 185,421.3 200,422.8 215,422.5 230,422 245,421.3 260,419.5 270,417.5 290,413.8 310,410 330,408.8 350,406.3 370,402.5 390,397.5 410,393.8 430,390 450,387 465,383.8 480,378.8 495,374.5 510,370 530,362.5 550,355 570,347.5 590,340 610,333.8 630,327.5 650,320 670,312.5 690,306.5 705.6,301.1 721.3,295.3 736.9,289.4 752.5,282.6 768.1,276.7 783.8,268.9 799.4,261.1 811.1,255.2 824.6,247.3" fill="none" stroke="#3c8043" stroke-width="1.2" stroke-linejoin="round"/>
<polyline points="13.5,436.3 20,441.3 30,446.3 40,447.5 50,447.5 57.5,445 65,440 75,433.8 85,430 95,427.5 105,426.3 115,424.5 125,422.5 135,420.5 145,418.8 152.5,416.3 160,415 170,414.5 180,415 190,414.3 200,413.3 210,412.5 220,411.3 230,409.3 240,407.5 250,402.5 260,395.5 270,389.5 280,383.8 290,378 300,372.5 310,367 320,361.3 330,357 340,355 350,355 360,353.8 370,352.5 380,352.5 390,354.5 400,358.8 410,362.5 420,366.3 430,369.5 440,372 450,371.3 457.5,369.5 465,365 475,357.5 485,349.5 495,341.5 500,337 510,328.8 520,320 530,312 540,304.5 550,297.5 560,290 570,282.5 580,275 590,268.8 600,263.8 607.5,261.3 615,261.3 625,260.5 635,259.5 645,257.5 655,253.8 665,253 675,250 685,243.8 690,241 697.8,232.5 705.6,225 713.4,220.3 721.3,218.3 729,217.7 736.9,216.8 744.7,213.8 752.5,210.7 760.3,208.8 768.1,208.4 775.9,208 783.8,206.8 791.6,204.1 799.4,200.9 807.2,194.7 815,187.9 824.6,181.8" fill="none" stroke="#d94561" stroke-width="1.2" stroke-linejoin="round"/>
</g>
<g id="vol">
<rect x="14.2" y="538.25" width="5" height="73.15" fill="#7f7f84" stroke="#5a5a5e" stroke-width="0.9"/>
<rect x="21.89" y="533.25" width="5" height="78.15" fill="#7f7f84" stroke="#5a5a5e" stroke-width="0.9"/>
<rect x="29.59" y="531.75" width="5" height="79.65" fill="#cf6377" stroke="#c44d63" stroke-width="0.9"/>
<rect x="37.28" y="534.25" width="5" height="77.15" fill="#7f7f84" stroke="#5a5a5e" stroke-width="0.9"/>
<rect x="44.98" y="544" width="5" height="67.4" fill="#cf6377" stroke="#c44d63" stroke-width="0.9"/>
<rect x="52.67" y="574.25" width="5" height="37.15" fill="#7f7f84" stroke="#5a5a5e" stroke-width="0.9"/>
<rect x="60.37" y="544" width="5" height="67.4" fill="#7f7f84" stroke="#5a5a5e" stroke-width="0.9"/>
<rect x="68.06" y="549.5" width="5" height="61.9" fill="#cf6377" stroke="#c44d63" stroke-width="0.9"/>
<rect x="75.76" y="524.25" width="5" height="87.15" fill="#cf6377" stroke="#c44d63" stroke-width="0.9"/>
<rect x="83.45" y="553" width="5" height="58.4" fill="#cf6377" stroke="#c44d63" stroke-width="0.9"/>
<rect x="91.15" y="573.25" width="5" height="38.15" fill="#cf6377" stroke="#c44d63" stroke-width="0.9"/>
<rect x="98.85" y="558" width="5" height="53.4" fill="#7f7f84" stroke="#5a5a5e" stroke-width="0.9"/>
<rect x="106.54" y="546.25" width="5" height="65.15" fill="#7f7f84" stroke="#5a5a5e" stroke-width="0.9"/>
<rect x="114.23" y="555.5" width="5" height="55.9" fill="#cf6377" stroke="#c44d63" stroke-width="0.9"/>
<rect x="121.93" y="545" width="5" height="66.4" fill="#7f7f84" stroke="#5a5a5e" stroke-width="0.9"/>
<rect x="129.62" y="531.75" width="5" height="79.65" fill="#7f7f84" stroke="#5a5a5e" stroke-width="0.9"/>
<rect x="137.32" y="543.25" width="5" height="68.15" fill="#cf6377" stroke="#c44d63" stroke-width="0.9"/>
<rect x="145.01" y="550.5" width="5" height="60.9" fill="#cf6377" stroke="#c44d63" stroke-width="0.9"/>
<rect x="152.71" y="561.25" width="5" height="50.15" fill="#cf6377" stroke="#c44d63" stroke-width="0.9"/>
<rect x="160.41" y="547.25" width="5" height="64.15" fill="#7f7f84" stroke="#5a5a5e" stroke-width="0.9"/>
<rect x="168.1" y="543.25" width="5" height="68.15" fill="#cf6377" stroke="#c44d63" stroke-width="0.9"/>
<rect x="175.79" y="499.25" width="5" height="112.15" fill="#7f7f84" stroke="#5a5a5e" stroke-width="0.9"/>
<rect x="183.49" y="534.25" width="5" height="77.15" fill="#7f7f84" stroke="#5a5a5e" stroke-width="0.9"/>
<rect x="191.19" y="549" width="5" height="62.4" fill="#7f7f84" stroke="#5a5a5e" stroke-width="0.9"/>
<rect x="198.88" y="561.25" width="5" height="50.15" fill="#cf6377" stroke="#c44d63" stroke-width="0.9"/>
<rect x="206.57" y="553" width="5" height="58.4" fill="#7f7f84" stroke="#5a5a5e" stroke-width="0.9"/>
<rect x="214.27" y="549.5" width="5" height="61.9" fill="#cf6377" stroke="#c44d63" stroke-width="0.9"/>
<rect x="221.97" y="540.75" width="5" height="70.65" fill="#7f7f84" stroke="#5a5a5e" stroke-width="0.9"/>
<rect x="229.66" y="540.75" width="5" height="70.65" fill="#cf6377" stroke="#c44d63" stroke-width="0.9"/>
<rect x="237.35" y="552" width="5" height="59.4" fill="#cf6377" stroke="#c44d63" stroke-width="0.9"/>
<rect x="245.05" y="548" width="5" height="63.4" fill="#7f7f84" stroke="#5a5a5e" stroke-width="0.9"/>
<rect x="252.75" y="543.25" width="5" height="68.15" fill="#7f7f84" stroke="#5a5a5e" stroke-width="0.9"/>
<rect x="260.44" y="543.25" width="5" height="68.15" fill="#7f7f84" stroke="#5a5a5e" stroke-width="0.9"/>
<rect x="268.13" y="548" width="5" height="63.4" fill="#7f7f84" stroke="#5a5a5e" stroke-width="0.9"/>
<rect x="275.83" y="531.75" width="5" height="79.65" fill="#7f7f84" stroke="#5a5a5e" stroke-width="0.9"/>
<rect x="283.52" y="556.25" width="5" height="55.15" fill="#cf6377" stroke="#c44d63" stroke-width="0.9"/>
<rect x="291.22" y="548.25" width="5" height="63.15" fill="#7f7f84" stroke="#5a5a5e" stroke-width="0.9"/>
<rect x="298.92" y="568.75" width="5" height="42.65" fill="#cf6377" stroke="#c44d63" stroke-width="0.9"/>
<rect x="306.61" y="549" width="5" height="62.4" fill="#7f7f84" stroke="#5a5a5e" stroke-width="0.9"/>
<rect x="314.31" y="537.5" width="5" height="73.9" fill="#7f7f84" stroke="#5a5a5e" stroke-width="0.9"/>
<rect x="322" y="546.25" width="5" height="65.15" fill="#7f7f84" stroke="#5a5a5e" stroke-width="0.9"/>
<rect x="329.69" y="545.5" width="5" height="65.9" fill="#cf6377" stroke="#c44d63" stroke-width="0.9"/>
<rect x="337.39" y="554.5" width="5" height="56.9" fill="#cf6377" stroke="#c44d63" stroke-width="0.9"/>
<rect x="345.08" y="554.5" width="5" height="56.9" fill="#cf6377" stroke="#c44d63" stroke-width="0.9"/>
<rect x="352.78" y="556.25" width="5" height="55.15" fill="#7f7f84" stroke="#5a5a5e" stroke-width="0.9"/>
<rect x="360.48" y="558" width="5" height="53.4" fill="#7f7f84" stroke="#5a5a5e" stroke-width="0.9"/>
<rect x="368.17" y="563" width="5" height="48.4" fill="#cf6377" stroke="#c44d63" stroke-width="0.9"/>
<rect x="375.87" y="539.25" width="5" height="72.15" fill="#cf6377" stroke="#c44d63" stroke-width="0.9"/>
<rect x="383.56" y="554" width="5" height="57.4" fill="#cf6377" stroke="#c44d63" stroke-width="0.9"/>
<rect x="391.25" y="550.5" width="5" height="60.9" fill="#cf6377" stroke="#c44d63" stroke-width="0.9"/>
<rect x="398.95" y="545.5" width="5" height="65.9" fill="#7f7f84" stroke="#5a5a5e" stroke-width="0.9"/>
<rect x="406.64" y="550.5" width="5" height="60.9" fill="#7f7f84" stroke="#5a5a5e" stroke-width="0.9"/>
<rect x="414.34" y="543.25" width="5" height="68.15" fill="#cf6377" stroke="#c44d63" stroke-width="0.9"/>
<rect x="422.04" y="537.5" width="5" height="73.9" fill="#cf6377" stroke="#c44d63" stroke-width="0.9"/>
<rect x="429.73" y="535.75" width="5" height="75.65" fill="#7f7f84" stroke="#5a5a5e" stroke-width="0.9"/>
<rect x="437.43" y="548.25" width="5" height="63.15" fill="#7f7f84" stroke="#5a5a5e" stroke-width="0.9"/>
<rect x="445.12" y="545" width="5" height="66.4" fill="#7f7f84" stroke="#5a5a5e" stroke-width="0.9"/>
<rect x="452.81" y="572.75" width="5" height="38.65" fill="#7f7f84" stroke="#5a5a5e" stroke-width="0.9"/>
<rect x="460.51" y="541.5" width="5" height="69.9" fill="#7f7f84" stroke="#5a5a5e" stroke-width="0.9"/>
<rect x="468.2" y="545" width="5" height="66.4" fill="#7f7f84" stroke="#5a5a5e" stroke-width="0.9"/>
<rect x="475.9" y="515" width="5" height="96.4" fill="#7f7f84" stroke="#5a5a5e" stroke-width="0.9"/>
<rect x="483.6" y="549.25" width="5" height="62.15" fill="#7f7f84" stroke="#5a5a5e" stroke-width="0.9"/>
<rect x="491.29" y="577" width="5" height="34.4" fill="#7f7f84" stroke="#5a5a5e" stroke-width="0.9"/>
<rect x="498.99" y="558.75" width="5" height="52.65" fill="#cf6377" stroke="#c44d63" stroke-width="0.9"/>
<rect x="506.68" y="549.25" width="5" height="62.15" fill="#7f7f84" stroke="#5a5a5e" stroke-width="0.9"/>
<rect x="514.38" y="555" width="5" height="56.4" fill="#7f7f84" stroke="#5a5a5e" stroke-width="0.9"/>
<rect x="522.07" y="538.25" width="5" height="73.15" fill="#7f7f84" stroke="#5a5a5e" stroke-width="0.9"/>
<rect x="529.77" y="535.5" width="5" height="75.9" fill="#7f7f84" stroke="#5a5a5e" stroke-width="0.9"/>
<rect x="537.46" y="543.25" width="5" height="68.15" fill="#7f7f84" stroke="#5a5a5e" stroke-width="0.9"/>
<rect x="545.16" y="545.75" width="5" height="65.65" fill="#cf6377" stroke="#c44d63" stroke-width="0.9"/>
<rect x="552.85" y="558" width="5" height="53.4" fill="#7f7f84" stroke="#5a5a5e" stroke-width="0.9"/>
<rect x="560.55" y="543.25" width="5" height="68.15" fill="#7f7f84" stroke="#5a5a5e" stroke-width="0.9"/>
<rect x="568.24" y="540" width="5" height="71.4" fill="#cf6377" stroke="#c44d63" stroke-width="0.9"/>
<rect x="575.94" y="530" width="5" height="81.4" fill="#cf6377" stroke="#c44d63" stroke-width="0.9"/>
<rect x="583.63" y="548.25" width="5" height="63.15" fill="#7f7f84" stroke="#5a5a5e" stroke-width="0.9"/>
<rect x="591.33" y="561.25" width="5" height="50.15" fill="#7f7f84" stroke="#5a5a5e" stroke-width="0.9"/>
<rect x="599.02" y="549.25" width="5" height="62.15" fill="#cf6377" stroke="#c44d63" stroke-width="0.9"/>
<rect x="606.72" y="550.5" width="5" height="60.9" fill="#cf6377" stroke="#c44d63" stroke-width="0.9"/>
<rect x="614.41" y="545.75" width="5" height="65.65" fill="#cf6377" stroke="#c44d63" stroke-width="0.9"/>
<rect x="622.11" y="543.25" width="5" height="68.15" fill="#7f7f84" stroke="#5a5a5e" stroke-width="0.9"/>
<rect x="629.8" y="539.25" width="5" height="72.15" fill="#7f7f84" stroke="#5a5a5e" stroke-width="0.9"/>
<rect x="637.5" y="553.25" width="5" height="58.15" fill="#7f7f84" stroke="#5a5a5e" stroke-width="0.9"/>
<rect x="645.19" y="553.25" width="5" height="58.15" fill="#7f7f84" stroke="#5a5a5e" stroke-width="0.9"/>
<rect x="652.89" y="557" width="5" height="54.4" fill="#7f7f84" stroke="#5a5a5e" stroke-width="0.9"/>
<rect x="660.58" y="552.25" width="5" height="59.15" fill="#cf6377" stroke="#c44d63" stroke-width="0.9"/>
<rect x="668.28" y="554" width="5" height="57.4" fill="#7f7f84" stroke="#5a5a5e" stroke-width="0.9"/>
<rect x="675.97" y="544.25" width="5" height="67.15" fill="#7f7f84" stroke="#5a5a5e" stroke-width="0.9"/>
<rect x="683.67" y="536" width="5" height="75.4" fill="#7f7f84" stroke="#5a5a5e" stroke-width="0.9"/>
<rect x="691.36" y="530" width="5" height="81.4" fill="#cf6377" stroke="#c44d63" stroke-width="0.9"/>
<rect x="699.06" y="564.5" width="5" height="46.9" fill="#7f7f84" stroke="#5a5a5e" stroke-width="0.9"/>
<rect x="706.75" y="542.25" width="5" height="69.15" fill="#7f7f84" stroke="#5a5a5e" stroke-width="0.9"/>
<rect x="714.45" y="536.75" width="5" height="74.65" fill="#cf6377" stroke="#c44d63" stroke-width="0.9"/>
<rect x="722.14" y="534.25" width="5" height="77.15" fill="#cf6377" stroke="#c44d63" stroke-width="0.9"/>
<rect x="729.84" y="522.75" width="5" height="88.65" fill="#cf6377" stroke="#c44d63" stroke-width="0.9"/>
<rect x="737.53" y="529.25" width="5" height="82.15" fill="#cf6377" stroke="#c44d63" stroke-width="0.9"/>
<rect x="745.23" y="545" width="5" height="66.4" fill="#7f7f84" stroke="#5a5a5e" stroke-width="0.9"/>
<rect x="752.92" y="553" width="5" height="58.4" fill="#7f7f84" stroke="#5a5a5e" stroke-width="0.9"/>
<rect x="760.62" y="548.25" width="5" height="63.15" fill="#7f7f84" stroke="#5a5a5e" stroke-width="0.9"/>
<rect x="768.31" y="552.25" width="5" height="59.15" fill="#cf6377" stroke="#c44d63" stroke-width="0.9"/>
<rect x="776.01" y="540.75" width="5" height="70.65" fill="#7f7f84" stroke="#5a5a5e" stroke-width="0.9"/>
<rect x="783.7" y="520.5" width="5" height="90.9" fill="#7f7f84" stroke="#5a5a5e" stroke-width="0.9"/>
<rect x="791.4" y="540.75" width="5" height="70.65" fill="#7f7f84" stroke="#5a5a5e" stroke-width="0.9"/>
<rect x="799.09" y="545" width="5" height="66.4" fill="#7f7f84" stroke="#5a5a5e" stroke-width="0.9"/>
<rect x="806.79" y="549.25" width="5" height="62.15" fill="#7f7f84" stroke="#5a5a5e" stroke-width="0.9"/>
<rect x="814.48" y="545.75" width="5" height="65.65" fill="#7f7f84" stroke="#5a5a5e" stroke-width="0.9"/>
<rect x="822.18" y="599.5" width="5" height="11.9" fill="#cf6377" stroke="#c44d63" stroke-width="0.9"/>
</g>
<g id="macd">
<rect x="14.2" y="681.5" width="5" height="8.32" fill="#4a9bcb" stroke="#2f7fb0" stroke-width="0.9"/>
<rect x="21.89" y="681.5" width="5" height="2.49" fill="#4a9bcb" stroke="#2f7fb0" stroke-width="0.9"/>
<rect x="29.59" y="681" width="5" height="1" fill="#2f7fb0"/>
<rect x="37.28" y="676.72" width="5" height="4.78" fill="#4a9bcb" stroke="#2f7fb0" stroke-width="0.9"/>
<rect x="44.98" y="673.71" width="5" height="7.79" fill="#4a9bcb" stroke="#2f7fb0" stroke-width="0.9"/>
<rect x="52.67" y="670.69" width="5" height="10.81" fill="#4a9bcb" stroke="#2f7fb0" stroke-width="0.9"/>
<rect x="60.37" y="669.38" width="5" height="12.12" fill="#4a9bcb" stroke="#2f7fb0" stroke-width="0.9"/>
<rect x="68.06" y="669.84" width="5" height="11.66" fill="#4a9bcb" stroke="#2f7fb0" stroke-width="0.9"/>
<rect x="75.76" y="672.85" width="5" height="8.65" fill="#4a9bcb" stroke="#2f7fb0" stroke-width="0.9"/>
<rect x="83.45" y="675.21" width="5" height="6.29" fill="#4a9bcb" stroke="#2f7fb0" stroke-width="0.9"/>
<rect x="91.15" y="676.98" width="5" height="4.52" fill="#4a9bcb" stroke="#2f7fb0" stroke-width="0.9"/>
<rect x="98.85" y="676.98" width="5" height="4.52" fill="#4a9bcb" stroke="#2f7fb0" stroke-width="0.9"/>
<rect x="106.54" y="675.21" width="5" height="6.29" fill="#4a9bcb" stroke="#2f7fb0" stroke-width="0.9"/>
<rect x="114.23" y="674.62" width="5" height="6.88" fill="#4a9bcb" stroke="#2f7fb0" stroke-width="0.9"/>
<rect x="121.93" y="672.66" width="5" height="8.84" fill="#4a9bcb" stroke="#2f7fb0" stroke-width="0.9"/>
<rect x="129.62" y="670.5" width="5" height="11" fill="#4a9bcb" stroke="#2f7fb0" stroke-width="0.9"/>
<rect x="137.32" y="670.5" width="5" height="11" fill="#4a9bcb" stroke="#2f7fb0" stroke-width="0.9"/>
<rect x="145.01" y="671.35" width="5" height="10.15" fill="#4a9bcb" stroke="#2f7fb0" stroke-width="0.9"/>
<rect x="152.71" y="674.56" width="5" height="6.94" fill="#4a9bcb" stroke="#2f7fb0" stroke-width="0.9"/>
<rect x="160.41" y="675.41" width="5" height="6.09" fill="#4a9bcb" stroke="#2f7fb0" stroke-width="0.9"/>
<rect x="168.1" y="679.86" width="5" height="1.64" fill="#4a9bcb" stroke="#2f7fb0" stroke-width="0.9"/>
<rect x="175.79" y="681" width="5" height="1" fill="#2f7fb0"/>
<rect x="183.49" y="681" width="5" height="1" fill="#2f7fb0"/>
<rect x="191.19" y="679.08" width="5" height="2.42" fill="#4a9bcb" stroke="#2f7fb0" stroke-width="0.9"/>
<rect x="198.88" y="677.57" width="5" height="3.93" fill="#4a9bcb" stroke="#2f7fb0" stroke-width="0.9"/>
<rect x="206.57" y="676.33" width="5" height="5.17" fill="#4a9bcb" stroke="#2f7fb0" stroke-width="0.9"/>
<rect x="214.27" y="675.87" width="5" height="5.63" fill="#4a9bcb" stroke="#2f7fb0" stroke-width="0.9"/>
<rect x="221.97" y="675.21" width="5" height="6.29" fill="#4a9bcb" stroke="#2f7fb0" stroke-width="0.9"/>
<rect x="229.66" y="675.87" width="5" height="5.63" fill="#4a9bcb" stroke="#2f7fb0" stroke-width="0.9"/>
<rect x="237.35" y="676.91" width="5" height="4.58" fill="#4a9bcb" stroke="#2f7fb0" stroke-width="0.9"/>
<rect x="245.05" y="676.72" width="5" height="4.78" fill="#4a9bcb" stroke="#2f7fb0" stroke-width="0.9"/>
<rect x="252.75" y="676.52" width="5" height="4.98" fill="#4a9bcb" stroke="#2f7fb0" stroke-width="0.9"/>
<rect x="260.44" y="675.21" width="5" height="6.29" fill="#4a9bcb" stroke="#2f7fb0" stroke-width="0.9"/>
<rect x="268.13" y="674.56" width="5" height="6.94" fill="#4a9bcb" stroke="#2f7fb0" stroke-width="0.9"/>
<rect x="275.83" y="672.66" width="5" height="8.84" fill="#4a9bcb" stroke="#2f7fb0" stroke-width="0.9"/>
<rect x="283.52" y="673.12" width="5" height="8.38" fill="#4a9bcb" stroke="#2f7fb0" stroke-width="0.9"/>
<rect x="291.22" y="672" width="5" height="9.5" fill="#4a9bcb" stroke="#2f7fb0" stroke-width="0.9"/>
<rect x="298.92" y="673.12" width="5" height="8.38" fill="#4a9bcb" stroke="#2f7fb0" stroke-width="0.9"/>
<rect x="306.61" y="672.46" width="5" height="9.04" fill="#4a9bcb" stroke="#2f7fb0" stroke-width="0.9"/>
<rect x="314.31" y="672" width="5" height="9.5" fill="#4a9bcb" stroke="#2f7fb0" stroke-width="0.9"/>
<rect x="322" y="671.81" width="5" height="9.69" fill="#4a9bcb" stroke="#2f7fb0" stroke-width="0.9"/>
<rect x="329.69" y="674.36" width="5" height="7.14" fill="#4a9bcb" stroke="#2f7fb0" stroke-width="0.9"/>
<rect x="337.39" y="676.98" width="5" height="4.52" fill="#4a9bcb" stroke="#2f7fb0" stroke-width="0.9"/>
<rect x="345.08" y="681" width="5" height="1" fill="#2f7fb0"/>
<rect x="352.78" y="681.5" width="5" height="1.64" fill="#4a9bcb" stroke="#2f7fb0" stroke-width="0.9"/>
<rect x="360.48" y="681.5" width="5" height="1.18" fill="#4a9bcb" stroke="#2f7fb0" stroke-width="0.9"/>
<rect x="368.17" y="681.5" width="5" height="2.23" fill="#4a9bcb" stroke="#2f7fb0" stroke-width="0.9"/>
<rect x="375.87" y="681.5" width="5" height="3.14" fill="#4a9bcb" stroke="#2f7fb0" stroke-width="0.9"/>
<rect x="383.56" y="681.5" width="5" height="6.55" fill="#4a9bcb" stroke="#2f7fb0" stroke-width="0.9"/>
<rect x="391.25" y="681.5" width="5" height="9.3" fill="#4a9bcb" stroke="#2f7fb0" stroke-width="0.9"/>
<rect x="398.95" y="681.5" width="5" height="10.41" fill="#4a9bcb" stroke="#2f7fb0" stroke-width="0.9"/>
<rect x="406.64" y="681.5" width="5" height="10.41" fill="#4a9bcb" stroke="#2f7fb0" stroke-width="0.9"/>
<rect x="414.34" y="681.5" width="5" height="12.18" fill="#4a9bcb" stroke="#2f7fb0" stroke-width="0.9"/>
<rect x="422.04" y="681.5" width="5" height="14.67" fill="#4a9bcb" stroke="#2f7fb0" stroke-width="0.9"/>
<rect x="429.73" y="681.5" width="5" height="11.2" fill="#4a9bcb" stroke="#2f7fb0" stroke-width="0.9"/>
<rect x="437.43" y="681.5" width="5" height="7.4" fill="#4a9bcb" stroke="#2f7fb0" stroke-width="0.9"/>
<rect x="445.12" y="681.5" width="5" height="2.75" fill="#4a9bcb" stroke="#2f7fb0" stroke-width="0.9"/>
<rect x="452.81" y="681" width="5" height="1" fill="#2f7fb0"/>
<rect x="460.51" y="677.57" width="5" height="3.93" fill="#4a9bcb" stroke="#2f7fb0" stroke-width="0.9"/>
<rect x="468.2" y="675.87" width="5" height="5.63" fill="#4a9bcb" stroke="#2f7fb0" stroke-width="0.9"/>
<rect x="475.9" y="673.12" width="5" height="8.38" fill="#4a9bcb" stroke="#2f7fb0" stroke-width="0.9"/>
<rect x="483.6" y="671.28" width="5" height="10.22" fill="#4a9bcb" stroke="#2f7fb0" stroke-width="0.9"/>
<rect x="491.29" y="670.37" width="5" height="11.13" fill="#4a9bcb" stroke="#2f7fb0" stroke-width="0.9"/>
<rect x="498.99" y="672.26" width="5" height="9.24" fill="#4a9bcb" stroke="#2f7fb0" stroke-width="0.9"/>
<rect x="506.68" y="672.26" width="5" height="9.24" fill="#4a9bcb" stroke="#2f7fb0" stroke-width="0.9"/>
<rect x="514.38" y="672" width="5" height="9.5" fill="#4a9bcb" stroke="#2f7fb0" stroke-width="0.9"/>
<rect x="522.07" y="671.61" width="5" height="9.89" fill="#4a9bcb" stroke="#2f7fb0" stroke-width="0.9"/>
<rect x="529.77" y="670.95" width="5" height="10.55" fill="#4a9bcb" stroke="#2f7fb0" stroke-width="0.9"/>
<rect x="537.46" y="669.84" width="5" height="11.66" fill="#4a9bcb" stroke="#2f7fb0" stroke-width="0.9"/>
<rect x="545.16" y="670.69" width="5" height="10.81" fill="#4a9bcb" stroke="#2f7fb0" stroke-width="0.9"/>
<rect x="552.85" y="670.5" width="5" height="11" fill="#4a9bcb" stroke="#2f7fb0" stroke-width="0.9"/>
<rect x="560.55" y="670.5" width="5" height="11" fill="#4a9bcb" stroke="#2f7fb0" stroke-width="0.9"/>
<rect x="568.24" y="671.61" width="5" height="9.89" fill="#4a9bcb" stroke="#2f7fb0" stroke-width="0.9"/>
<rect x="575.94" y="673.51" width="5" height="7.99" fill="#4a9bcb" stroke="#2f7fb0" stroke-width="0.9"/>
<rect x="583.63" y="673.31" width="5" height="8.19" fill="#4a9bcb" stroke="#2f7fb0" stroke-width="0.9"/>
<rect x="591.33" y="673.77" width="5" height="7.73" fill="#4a9bcb" stroke="#2f7fb0" stroke-width="0.9"/>
<rect x="599.02" y="675.87" width="5" height="5.63" fill="#4a9bcb" stroke="#2f7fb0" stroke-width="0.9"/>
<rect x="606.72" y="679.53" width="5" height="1.97" fill="#4a9bcb" stroke="#2f7fb0" stroke-width="0.9"/>
<rect x="614.41" y="681.5" width="5" height="4.19" fill="#4a9bcb" stroke="#2f7fb0" stroke-width="0.9"/>
<rect x="622.11" y="681.5" width="5" height="5.7" fill="#4a9bcb" stroke="#2f7fb0" stroke-width="0.9"/>
<rect x="629.8" y="681.5" width="5" height="6.42" fill="#4a9bcb" stroke="#2f7fb0" stroke-width="0.9"/>
<rect x="637.5" y="681.5" width="5" height="4.91" fill="#4a9bcb" stroke="#2f7fb0" stroke-width="0.9"/>
<rect x="645.19" y="681.5" width="5" height="2.75" fill="#4a9bcb" stroke="#2f7fb0" stroke-width="0.9"/>
<rect x="652.89" y="681.5" width="5" height="1.64" fill="#4a9bcb" stroke="#2f7fb0" stroke-width="0.9"/>
<rect x="660.58" y="681.5" width="5" height="1.83" fill="#4a9bcb" stroke="#2f7fb0" stroke-width="0.9"/>
<rect x="668.28" y="681.5" width="5" height="1.24" fill="#4a9bcb" stroke="#2f7fb0" stroke-width="0.9"/>
<rect x="675.97" y="681" width="5" height="1" fill="#2f7fb0"/>
<rect x="683.67" y="679.53" width="5" height="1.97" fill="#4a9bcb" stroke="#2f7fb0" stroke-width="0.9"/>
<rect x="691.36" y="679.53" width="5" height="1.97" fill="#4a9bcb" stroke="#2f7fb0" stroke-width="0.9"/>
<rect x="699.06" y="677.77" width="5" height="3.73" fill="#4a9bcb" stroke="#2f7fb0" stroke-width="0.9"/>
<rect x="706.75" y="676.52" width="5" height="4.98" fill="#4a9bcb" stroke="#2f7fb0" stroke-width="0.9"/>
<rect x="714.45" y="678.68" width="5" height="2.82" fill="#4a9bcb" stroke="#2f7fb0" stroke-width="0.9"/>
<rect x="722.14" y="681" width="5" height="1" fill="#2f7fb0"/>
<rect x="729.84" y="681.5" width="5" height="4.65" fill="#4a9bcb" stroke="#2f7fb0" stroke-width="0.9"/>
<rect x="737.53" y="681.5" width="5" height="7.79" fill="#4a9bcb" stroke="#2f7fb0" stroke-width="0.9"/>
<rect x="745.23" y="681.5" width="5" height="5.63" fill="#4a9bcb" stroke="#2f7fb0" stroke-width="0.9"/>
<rect x="752.92" y="681.5" width="5" height="2.95" fill="#4a9bcb" stroke="#2f7fb0" stroke-width="0.9"/>
<rect x="760.62" y="681.5" width="5" height="1.44" fill="#4a9bcb" stroke="#2f7fb0" stroke-width="0.9"/>
<rect x="768.31" y="681.5" width="5" height="5.44" fill="#4a9bcb" stroke="#2f7fb0" stroke-width="0.9"/>
<rect x="776.01" y="681.5" width="5" height="3.8" fill="#4a9bcb" stroke="#2f7fb0" stroke-width="0.9"/>
<rect x="783.7" y="681.5" width="5" height="1.64" fill="#4a9bcb" stroke="#2f7fb0" stroke-width="0.9"/>
<rect x="791.4" y="681" width="5" height="1" fill="#2f7fb0"/>
<rect x="799.09" y="680.39" width="5" height="1.11" fill="#4a9bcb" stroke="#2f7fb0" stroke-width="0.9"/>
<rect x="806.79" y="679.14" width="5" height="2.36" fill="#4a9bcb" stroke="#2f7fb0" stroke-width="0.9"/>
<rect x="814.48" y="677.83" width="5" height="3.67" fill="#4a9bcb" stroke="#2f7fb0" stroke-width="0.9"/>
<rect x="822.18" y="677.74" width="5" height="3.76" fill="#4a9bcb" stroke="#2f7fb0" stroke-width="0.9"/>
<polyline points="13.5,717.5 16.7,717.75 24.39,718 32.09,718.75 39.78,717.5 47.48,715.75 55.17,712.5 62.87,709.25 70.56,705.5 78.26,703.75 85.95,702 93.65,700.5 101.35,699.5 109.04,697.5 116.73,695.75 124.43,693.75 132.12,690.75 139.82,688.25 147.51,685.5 155.21,683.25 162.91,682 170.6,681.75 178.29,681.75 185.99,681.75 193.69,681 201.38,680 209.07,678.5 216.77,677 224.47,675.5 232.16,673.75 239.85,672.5 247.55,671.25 255.25,670 262.94,668.25 270.63,666.75 278.33,664.5 286.02,662.5 293.72,660 301.42,658.25 309.11,655.5 316.81,653 324.5,650.5 332.19,648.25 339.89,647.5 347.58,647.5 355.28,648 362.98,648 370.67,648.25 378.37,649.25 386.06,651.25 393.75,653.75 401.45,656.25 409.14,659 416.84,662.5 424.54,666 432.23,668.25 439.93,669.5 447.62,669.5 455.31,669.5 463.01,668.75 470.7,667 478.4,664.5 486.1,661.75 493.79,658.75 501.49,657 509.18,654.5 516.88,652 524.57,648.75 532.27,645.75 539.96,642.5 547.66,640 555.35,637.5 563.05,634.5 570.74,632.5 578.44,630.5 586.13,628.25 593.83,626.25 601.52,625.5 609.22,624.5 616.91,625.5 624.61,627 632.3,628.75 640,629.5 647.69,630.5 655.39,630.5 663.08,631.25 670.78,631.25 678.47,630.75 686.17,630 693.86,630 701.56,628.25 709.25,627.5 716.95,626.75 724.64,626.75 732.34,627.5 740.03,630 747.73,631.25 755.42,632 763.12,632 770.81,633.75 778.51,634.5 786.2,635 793.9,634.5 801.59,634.25 809.29,633.5 816.98,632.5 824.68,631.1" fill="none" stroke="#ee3a43" stroke-width="1.2" stroke-linejoin="round"/>
<polyline points="13.5,726.3 16.7,725.5 24.39,720.75 32.09,718.75 39.78,712 47.48,707 55.17,701.25 62.87,695 70.56,694.25 78.26,695.25 85.95,695.75 93.65,695.75 101.35,695 109.04,690.75 116.73,688.75 124.43,684.5 132.12,679.5 139.82,677.5 147.51,675.75 155.21,676.25 162.91,675.75 170.6,679.5 178.29,681.75 185.99,681.75 193.69,678.25 201.38,675.75 209.07,672.5 216.77,670.75 224.47,668.75 232.16,668 239.85,668 247.55,666.25 255.25,664.5 262.94,662 270.63,659.5 278.33,655.75 286.02,654 293.72,650 301.42,649 309.11,645.75 316.81,643 324.5,640 332.19,640.75 339.89,642.5 347.58,646.75 355.28,649.25 362.98,649.5 370.67,650.5 378.37,653 386.06,657.5 393.75,662.5 401.45,665.75 409.14,668.25 416.84,673.25 424.54,679.25 432.23,678.25 439.93,676.25 447.62,672.5 455.31,668.25 463.01,665 470.7,661.75 478.4,656.75 486.1,652 493.79,647.5 501.49,647.5 509.18,645 516.88,642 524.57,638.75 532.27,635.5 539.96,632 547.66,630.5 555.35,627.5 563.05,623.75 570.74,622.5 578.44,621.75 586.13,620 593.83,618 601.52,618.75 609.22,621.75 616.91,628.75 624.61,632 632.3,634.25 640,634.25 647.69,632.5 655.39,631.75 663.08,632.5 670.78,631.25 678.47,630 686.17,628.25 693.86,627.5 701.56,625 709.25,621.75 716.95,623.25 724.64,626.75 732.34,632 740.03,637.5 747.73,636.75 755.42,635.25 763.12,633.25 770.81,638.25 778.51,638.25 786.2,635.75 793.9,634.25 801.59,632.5 809.29,630.5 816.98,628.25 824.68,627.3" fill="none" stroke="#222" stroke-width="1.55" stroke-linejoin="round"/>
</g>
<g id="hist">
<rect x="14.2" y="787.75" width="5" height="31.75" fill="#4a9bcb" stroke="#2f7fb0" stroke-width="0.9"/>
<rect x="21.89" y="787.75" width="5" height="9.5" fill="#4a9bcb" stroke="#2f7fb0" stroke-width="0.9"/>
<rect x="29.59" y="787.75" width="5" height="3.75" fill="#4a9bcb" stroke="#2f7fb0" stroke-width="0.9"/>
<rect x="37.28" y="769.5" width="5" height="18.25" fill="#4a9bcb" stroke="#2f7fb0" stroke-width="0.9"/>
<rect x="44.98" y="758" width="5" height="29.75" fill="#4a9bcb" stroke="#2f7fb0" stroke-width="0.9"/>
<rect x="52.67" y="746.5" width="5" height="41.25" fill="#4a9bcb" stroke="#2f7fb0" stroke-width="0.9"/>
<rect x="60.37" y="741.5" width="5" height="46.25" fill="#4a9bcb" stroke="#2f7fb0" stroke-width="0.9"/>
<rect x="68.06" y="743.25" width="5" height="44.5" fill="#4a9bcb" stroke="#2f7fb0" stroke-width="0.9"/>
<rect x="75.76" y="754.75" width="5" height="33" fill="#4a9bcb" stroke="#2f7fb0" stroke-width="0.9"/>
<rect x="83.45" y="763.75" width="5" height="24" fill="#4a9bcb" stroke="#2f7fb0" stroke-width="0.9"/>
<rect x="91.15" y="770.5" width="5" height="17.25" fill="#4a9bcb" stroke="#2f7fb0" stroke-width="0.9"/>
<rect x="98.85" y="770.5" width="5" height="17.25" fill="#4a9bcb" stroke="#2f7fb0" stroke-width="0.9"/>
<rect x="106.54" y="763.75" width="5" height="24" fill="#4a9bcb" stroke="#2f7fb0" stroke-width="0.9"/>
<rect x="114.23" y="761.5" width="5" height="26.25" fill="#4a9bcb" stroke="#2f7fb0" stroke-width="0.9"/>
<rect x="121.93" y="754" width="5" height="33.75" fill="#4a9bcb" stroke="#2f7fb0" stroke-width="0.9"/>
<rect x="129.62" y="745.75" width="5" height="42" fill="#4a9bcb" stroke="#2f7fb0" stroke-width="0.9"/>
<rect x="137.32" y="745.75" width="5" height="42" fill="#4a9bcb" stroke="#2f7fb0" stroke-width="0.9"/>
<rect x="145.01" y="749" width="5" height="38.75" fill="#4a9bcb" stroke="#2f7fb0" stroke-width="0.9"/>
<rect x="152.71" y="761.25" width="5" height="26.5" fill="#4a9bcb" stroke="#2f7fb0" stroke-width="0.9"/>
<rect x="160.41" y="764.5" width="5" height="23.25" fill="#4a9bcb" stroke="#2f7fb0" stroke-width="0.9"/>
<rect x="168.1" y="781.5" width="5" height="6.25" fill="#4a9bcb" stroke="#2f7fb0" stroke-width="0.9"/>
<rect x="175.79" y="787.25" width="5" height="1" fill="#2f7fb0"/>
<rect x="183.49" y="787.75" width="5" height="1.25" fill="#4a9bcb" stroke="#2f7fb0" stroke-width="0.9"/>
<rect x="191.19" y="778.5" width="5" height="9.25" fill="#4a9bcb" stroke="#2f7fb0" stroke-width="0.9"/>
<rect x="198.88" y="772.75" width="5" height="15" fill="#4a9bcb" stroke="#2f7fb0" stroke-width="0.9"/>
<rect x="206.57" y="768" width="5" height="19.75" fill="#4a9bcb" stroke="#2f7fb0" stroke-width="0.9"/>
<rect x="214.27" y="766.25" width="5" height="21.5" fill="#4a9bcb" stroke="#2f7fb0" stroke-width="0.9"/>
<rect x="221.97" y="763.75" width="5" height="24" fill="#4a9bcb" stroke="#2f7fb0" stroke-width="0.9"/>
<rect x="229.66" y="766.25" width="5" height="21.5" fill="#4a9bcb" stroke="#2f7fb0" stroke-width="0.9"/>
<rect x="237.35" y="770.25" width="5" height="17.5" fill="#4a9bcb" stroke="#2f7fb0" stroke-width="0.9"/>
<rect x="245.05" y="769.5" width="5" height="18.25" fill="#4a9bcb" stroke="#2f7fb0" stroke-width="0.9"/>
<rect x="252.75" y="768.75" width="5" height="19" fill="#4a9bcb" stroke="#2f7fb0" stroke-width="0.9"/>
<rect x="260.44" y="763.75" width="5" height="24" fill="#4a9bcb" stroke="#2f7fb0" stroke-width="0.9"/>
<rect x="268.13" y="761.25" width="5" height="26.5" fill="#4a9bcb" stroke="#2f7fb0" stroke-width="0.9"/>
<rect x="275.83" y="754" width="5" height="33.75" fill="#4a9bcb" stroke="#2f7fb0" stroke-width="0.9"/>
<rect x="283.52" y="755.75" width="5" height="32" fill="#4a9bcb" stroke="#2f7fb0" stroke-width="0.9"/>
<rect x="291.22" y="751.5" width="5" height="36.25" fill="#4a9bcb" stroke="#2f7fb0" stroke-width="0.9"/>
<rect x="298.92" y="755.75" width="5" height="32" fill="#4a9bcb" stroke="#2f7fb0" stroke-width="0.9"/>
<rect x="306.61" y="753.25" width="5" height="34.5" fill="#4a9bcb" stroke="#2f7fb0" stroke-width="0.9"/>
<rect x="314.31" y="751.5" width="5" height="36.25" fill="#4a9bcb" stroke="#2f7fb0" stroke-width="0.9"/>
<rect x="322" y="750.75" width="5" height="37" fill="#4a9bcb" stroke="#2f7fb0" stroke-width="0.9"/>
<rect x="329.69" y="760.5" width="5" height="27.25" fill="#4a9bcb" stroke="#2f7fb0" stroke-width="0.9"/>
<rect x="337.39" y="770.5" width="5" height="17.25" fill="#4a9bcb" stroke="#2f7fb0" stroke-width="0.9"/>
<rect x="345.08" y="786" width="5" height="1.75" fill="#4a9bcb" stroke="#2f7fb0" stroke-width="0.9"/>
<rect x="352.78" y="787.75" width="5" height="6.25" fill="#4a9bcb" stroke="#2f7fb0" stroke-width="0.9"/>
<rect x="360.48" y="787.75" width="5" height="4.5" fill="#4a9bcb" stroke="#2f7fb0" stroke-width="0.9"/>
<rect x="368.17" y="787.75" width="5" height="8.5" fill="#4a9bcb" stroke="#2f7fb0" stroke-width="0.9"/>
<rect x="375.87" y="787.75" width="5" height="12" fill="#4a9bcb" stroke="#2f7fb0" stroke-width="0.9"/>
<rect x="383.56" y="787.75" width="5" height="25" fill="#4a9bcb" stroke="#2f7fb0" stroke-width="0.9"/>
<rect x="391.25" y="787.75" width="5" height="35.5" fill="#4a9bcb" stroke="#2f7fb0" stroke-width="0.9"/>
<rect x="398.95" y="787.75" width="5" height="39.75" fill="#4a9bcb" stroke="#2f7fb0" stroke-width="0.9"/>
<rect x="406.64" y="787.75" width="5" height="39.75" fill="#4a9bcb" stroke="#2f7fb0" stroke-width="0.9"/>
<rect x="414.34" y="787.75" width="5" height="46.5" fill="#4a9bcb" stroke="#2f7fb0" stroke-width="0.9"/>
<rect x="422.04" y="787.75" width="5" height="56" fill="#4a9bcb" stroke="#2f7fb0" stroke-width="0.9"/>
<rect x="429.73" y="787.75" width="5" height="42.75" fill="#4a9bcb" stroke="#2f7fb0" stroke-width="0.9"/>
<rect x="437.43" y="787.75" width="5" height="28.25" fill="#4a9bcb" stroke="#2f7fb0" stroke-width="0.9"/>
<rect x="445.12" y="787.75" width="5" height="10.5" fill="#4a9bcb" stroke="#2f7fb0" stroke-width="0.9"/>
<rect x="452.81" y="783.75" width="5" height="4" fill="#4a9bcb" stroke="#2f7fb0" stroke-width="0.9"/>
<rect x="460.51" y="772.75" width="5" height="15" fill="#4a9bcb" stroke="#2f7fb0" stroke-width="0.9"/>
<rect x="468.2" y="766.25" width="5" height="21.5" fill="#4a9bcb" stroke="#2f7fb0" stroke-width="0.9"/>
<rect x="475.9" y="755.75" width="5" height="32" fill="#4a9bcb" stroke="#2f7fb0" stroke-width="0.9"/>
<rect x="483.6" y="748.75" width="5" height="39" fill="#4a9bcb" stroke="#2f7fb0" stroke-width="0.9"/>
<rect x="491.29" y="745.25" width="5" height="42.5" fill="#4a9bcb" stroke="#2f7fb0" stroke-width="0.9"/>
<rect x="498.99" y="752.5" width="5" height="35.25" fill="#4a9bcb" stroke="#2f7fb0" stroke-width="0.9"/>
<rect x="506.68" y="752.5" width="5" height="35.25" fill="#4a9bcb" stroke="#2f7fb0" stroke-width="0.9"/>
<rect x="514.38" y="751.5" width="5" height="36.25" fill="#4a9bcb" stroke="#2f7fb0" stroke-width="0.9"/>
<rect x="522.07" y="750" width="5" height="37.75" fill="#4a9bcb" stroke="#2f7fb0" stroke-width="0.9"/>
<rect x="529.77" y="747.5" width="5" height="40.25" fill="#4a9bcb" stroke="#2f7fb0" stroke-width="0.9"/>
<rect x="537.46" y="743.25" width="5" height="44.5" fill="#4a9bcb" stroke="#2f7fb0" stroke-width="0.9"/>
<rect x="545.16" y="746.5" width="5" height="41.25" fill="#4a9bcb" stroke="#2f7fb0" stroke-width="0.9"/>
<rect x="552.85" y="745.75" width="5" height="42" fill="#4a9bcb" stroke="#2f7fb0" stroke-width="0.9"/>
<rect x="560.55" y="745.75" width="5" height="42" fill="#4a9bcb" stroke="#2f7fb0" stroke-width="0.9"/>
<rect x="568.24" y="750" width="5" height="37.75" fill="#4a9bcb" stroke="#2f7fb0" stroke-width="0.9"/>
<rect x="575.94" y="757.25" width="5" height="30.5" fill="#4a9bcb" stroke="#2f7fb0" stroke-width="0.9"/>
<rect x="583.63" y="756.5" width="5" height="31.25" fill="#4a9bcb" stroke="#2f7fb0" stroke-width="0.9"/>
<rect x="591.33" y="758.25" width="5" height="29.5" fill="#4a9bcb" stroke="#2f7fb0" stroke-width="0.9"/>
<rect x="599.02" y="766.25" width="5" height="21.5" fill="#4a9bcb" stroke="#2f7fb0" stroke-width="0.9"/>
<rect x="606.72" y="780.25" width="5" height="7.5" fill="#4a9bcb" stroke="#2f7fb0" stroke-width="0.9"/>
<rect x="614.41" y="787.75" width="5" height="16" fill="#4a9bcb" stroke="#2f7fb0" stroke-width="0.9"/>
<rect x="622.11" y="787.75" width="5" height="21.75" fill="#4a9bcb" stroke="#2f7fb0" stroke-width="0.9"/>
<rect x="629.8" y="787.75" width="5" height="24.5" fill="#4a9bcb" stroke="#2f7fb0" stroke-width="0.9"/>
<rect x="637.5" y="787.75" width="5" height="18.75" fill="#4a9bcb" stroke="#2f7fb0" stroke-width="0.9"/>
<rect x="645.19" y="787.75" width="5" height="10.5" fill="#4a9bcb" stroke="#2f7fb0" stroke-width="0.9"/>
<rect x="652.89" y="787.75" width="5" height="6.25" fill="#4a9bcb" stroke="#2f7fb0" stroke-width="0.9"/>
<rect x="660.58" y="787.75" width="5" height="7" fill="#4a9bcb" stroke="#2f7fb0" stroke-width="0.9"/>
<rect x="668.28" y="787.75" width="5" height="4.75" fill="#4a9bcb" stroke="#2f7fb0" stroke-width="0.9"/>
<rect x="675.97" y="785.25" width="5" height="2.5" fill="#4a9bcb" stroke="#2f7fb0" stroke-width="0.9"/>
<rect x="683.67" y="780.25" width="5" height="7.5" fill="#4a9bcb" stroke="#2f7fb0" stroke-width="0.9"/>
<rect x="691.36" y="780.25" width="5" height="7.5" fill="#4a9bcb" stroke="#2f7fb0" stroke-width="0.9"/>
<rect x="699.06" y="773.5" width="5" height="14.25" fill="#4a9bcb" stroke="#2f7fb0" stroke-width="0.9"/>
<rect x="706.75" y="768.75" width="5" height="19" fill="#4a9bcb" stroke="#2f7fb0" stroke-width="0.9"/>
<rect x="714.45" y="777" width="5" height="10.75" fill="#4a9bcb" stroke="#2f7fb0" stroke-width="0.9"/>
<rect x="722.14" y="787.25" width="5" height="1" fill="#2f7fb0"/>
<rect x="729.84" y="787.75" width="5" height="17.75" fill="#4a9bcb" stroke="#2f7fb0" stroke-width="0.9"/>
<rect x="737.53" y="787.75" width="5" height="29.75" fill="#4a9bcb" stroke="#2f7fb0" stroke-width="0.9"/>
<rect x="745.23" y="787.75" width="5" height="21.5" fill="#4a9bcb" stroke="#2f7fb0" stroke-width="0.9"/>
<rect x="752.92" y="787.75" width="5" height="11.25" fill="#4a9bcb" stroke="#2f7fb0" stroke-width="0.9"/>
<rect x="760.62" y="787.75" width="5" height="5.5" fill="#4a9bcb" stroke="#2f7fb0" stroke-width="0.9"/>
<rect x="768.31" y="787.75" width="5" height="20.75" fill="#4a9bcb" stroke="#2f7fb0" stroke-width="0.9"/>
<rect x="776.01" y="787.75" width="5" height="14.5" fill="#4a9bcb" stroke="#2f7fb0" stroke-width="0.9"/>
<rect x="783.7" y="787.75" width="5" height="6.25" fill="#4a9bcb" stroke="#2f7fb0" stroke-width="0.9"/>
<rect x="791.4" y="787.25" width="5" height="1" fill="#2f7fb0"/>
<rect x="799.09" y="783.5" width="5" height="4.25" fill="#4a9bcb" stroke="#2f7fb0" stroke-width="0.9"/>
<rect x="806.79" y="778.75" width="5" height="9" fill="#4a9bcb" stroke="#2f7fb0" stroke-width="0.9"/>
<rect x="814.48" y="773.75" width="5" height="14" fill="#4a9bcb" stroke="#2f7fb0" stroke-width="0.9"/>
<rect x="822.18" y="773.4" width="5" height="14.35" fill="#4a9bcb" stroke="#2f7fb0" stroke-width="0.9"/>
<path d="M540.5 737L631.8 766M709.5 765.8L739.5 784.5M840 769.5L871.3 777.8" stroke="#f01414" stroke-width="1.8" stroke-dasharray="12 2.5 2 2.5" fill="none"/>
<path d="M509.5 798.3L540 793.8" stroke="#1a1aee" stroke-width="1.8" stroke-dasharray="9 2 2 2" fill="none"/>
<path d="M632 820L707.5 793.5" stroke="#1a1aee" stroke-width="1.8" stroke-dasharray="6 3" fill="none"/>
<path d="M740 822.5L815.8 796.3" stroke="#1a1aee" stroke-width="1.8" stroke-dasharray="9 2 2 2 2 2" fill="none"/>
</g>
<g id="sto">
<path d="M13.5 877.62H985.3M13.5 941.38H985.3" stroke="#707078" stroke-width="1.1" fill="none"/>
<path d="M13.5 909.5H985.3" stroke="#8c8c94" stroke-width="1.2" stroke-dasharray="6 2 1.5 2" fill="none"/>
<polyline points="13.5,953.8 16.7,953.25 24.39,943.75 32.09,931.25 39.78,920.75 47.48,913.75 55.17,904.5 62.87,895.75 70.56,885 78.26,881.75 85.95,886.25 93.65,893.25 101.35,898.75 109.04,896.25 116.73,890.75 124.43,883.75 132.12,877.5 139.82,873 147.51,874.5 155.21,881.25 162.91,889.5 170.6,902 178.29,911.25 185.99,919.25 193.69,917 201.38,906.75 209.07,891.25 216.77,880.5 224.47,873.75 232.16,871.25 239.85,869.5 247.55,869.5 255.25,867.5 262.94,863.75 270.63,860.5 278.33,859.5 286.02,862 293.72,863.75 301.42,866.75 309.11,865.5 316.81,866.25 324.5,863.25 332.19,865.5 339.89,868.75 347.58,878.75 355.28,888 362.98,893.75 370.67,895 378.37,895 386.06,905 393.75,921.25 401.45,938.25 409.14,943 416.84,944.5 424.54,945 432.23,946.25 439.93,937.5 447.62,916.25 455.31,892 463.01,871.25 470.7,862 478.4,858 486.1,857.5 493.79,858.75 501.49,860.75 509.18,862.5 516.88,863 524.57,861.25 532.27,858.75 539.96,857.5 547.66,858 555.35,858.75 563.05,859.25 570.74,860.5 578.44,861.75 586.13,863.75 593.83,863.75 601.52,863.75 609.22,864.5 616.91,873 624.61,884.5 632.3,895 640,895 647.69,887 655.39,875.5 663.08,868.75 670.78,867 678.47,866.75 686.17,865 693.86,863.75 701.56,863 709.25,862.5 716.95,863.75 724.64,868.25 732.34,878 740.03,891.25 747.73,899.5 755.42,898 763.12,884.5 770.81,876.75 778.51,873.25 786.2,876.75 793.9,872 801.59,867 809.29,860.5 816.98,858.75 824.68,858" fill="none" stroke="#ee3a43" stroke-width="1.2" stroke-linejoin="round"/>
<polyline points="13.5,949.5 16.7,944.5 24.39,931.25 32.09,922.5 39.78,912 47.48,909.5 55.17,894.5 62.87,883.25 70.56,878.25 78.26,884.5 85.95,896.25 93.65,901.25 101.35,898.25 109.04,889.25 116.73,884.25 124.43,874.5 132.12,872.5 139.82,871.25 147.51,878.75 155.21,892 162.91,896.25 170.6,914.5 178.29,919.5 185.99,925 193.69,905 201.38,890.5 209.07,877 216.77,875 224.47,869.5 232.16,869.5 239.85,869.5 247.55,869.5 255.25,863.75 262.94,858.75 270.63,858.75 278.33,860.5 286.02,866.25 293.72,865.5 301.42,868.25 309.11,863.75 316.81,865.5 324.5,862 332.19,869.5 339.89,876.25 347.58,890.75 355.28,897 362.98,895 370.67,893.25 378.37,897 386.06,925 393.75,940.75 401.45,949.5 409.14,940 416.84,943.75 424.54,951.25 432.23,942.5 439.93,918.75 447.62,886.25 455.31,870 463.01,858.75 470.7,857 478.4,857.5 486.1,858.25 493.79,859.5 501.49,863.75 509.18,863 516.88,862 524.57,858 532.27,857 539.96,857 547.66,858.75 555.35,859.5 563.05,859.5 570.74,861.25 578.44,863.75 586.13,865.5 593.83,863 601.52,862 609.22,870 616.91,888 624.61,897.5 632.3,900.5 640,886.25 647.69,873.75 655.39,865.5 663.08,867 670.78,867.5 678.47,865.5 686.17,862 693.86,863.25 701.56,863 709.25,862 716.95,866.25 724.64,876.25 732.34,891.25 740.03,905 747.73,902 755.42,886.25 763.12,867 770.81,876.25 778.51,876.75 786.2,877 793.9,862 801.59,860.5 809.29,858.75 816.98,858 824.68,857.75" fill="none" stroke="#222" stroke-width="1.55" stroke-linejoin="round"/>
</g>
<g id="borders" fill="none">
<path d="M13.5 142.2H985.3M13.5 612H985.3M13.5 730.4H985.3M13.5 849.6H985.3" stroke="#b2b1c6" stroke-width="1.6"/>
<rect x="13.5" y="23.2" width="971.8" height="458.5" stroke="#a9a8be" stroke-width="1.2"/>
<rect x="13.5" y="493.2" width="971.8" height="475.2" stroke="#a9a8be" stroke-width="1.2"/>
<path d="M16.7 481.7v2M16.7 493.2v-2M16.7 968.4v2M24.39 481.7v2M24.39 493.2v-2M24.39 968.4v2M32.09 481.7v2M32.09 493.2v-2M32.09 968.4v2M39.78 481.7v2M39.78 493.2v-2M39.78 968.4v2M47.48 481.7v2M47.48 493.2v-2M47.48 968.4v2M55.17 481.7v2M55.17 493.2v-2M55.17 968.4v2M62.87 481.7v2M62.87 493.2v-2M62.87 968.4v2M70.56 481.7v2M70.56 493.2v-2M70.56 968.4v2M78.26 481.7v2M78.26 493.2v-2M78.26 968.4v2M85.95 481.7v2M85.95 493.2v-2M85.95 968.4v2M93.65 481.7v2M93.65 493.2v-2M93.65 968.4v2M101.35 481.7v2M101.35 493.2v-2M101.35 968.4v2M109.04 481.7v2M109.04 493.2v-2M109.04 968.4v2M116.73 481.7v2M116.73 493.2v-2M116.73 968.4v2M124.43 481.7v2M124.43 493.2v-2M124.43 968.4v2M132.12 481.7v2M132.12 493.2v-2M132.12 968.4v2M139.82 481.7v2M139.82 493.2v-2M139.82 968.4v2M147.51 481.7v2M147.51 493.2v-2M147.51 968.4v2M155.21 481.7v2M155.21 493.2v-2M155.21 968.4v2M162.91 481.7v2M162.91 493.2v-2M162.91 968.4v2M170.6 481.7v2M170.6 493.2v-2M170.6 968.4v2M178.29 481.7v2M178.29 493.2v-2M178.29 968.4v2M185.99 481.7v2M185.99 493.2v-2M185.99 968.4v2M193.69 481.7v2M193.69 493.2v-2M193.69 968.4v2M201.38 481.7v2M201.38 493.2v-2M201.38 968.4v2M209.07 481.7v2M209.07 493.2v-2M209.07 968.4v2M216.77 481.7v2M216.77 493.2v-2M216.77 968.4v2M224.47 481.7v2M224.47 493.2v-2M224.47 968.4v2M232.16 481.7v2M232.16 493.2v-2M232.16 968.4v2M239.85 481.7v2M239.85 493.2v-2M239.85 968.4v2M247.55 481.7v2M247.55 493.2v-2M247.55 968.4v2M255.25 481.7v2M255.25 493.2v-2M255.25 968.4v2M262.94 481.7v2M262.94 493.2v-2M262.94 968.4v2M270.63 481.7v2M270.63 493.2v-2M270.63 968.4v2M278.33 481.7v2M278.33 493.2v-2M278.33 968.4v2M286.02 481.7v2M286.02 493.2v-2M286.02 968.4v2M293.72 481.7v2M293.72 493.2v-2M293.72 968.4v2M301.42 481.7v2M301.42 493.2v-2M301.42 968.4v2M309.11 481.7v2M309.11 493.2v-2M309.11 968.4v2M316.81 481.7v2M316.81 493.2v-2M316.81 968.4v2M324.5 481.7v2M324.5 493.2v-2M324.5 968.4v2M332.19 481.7v2M332.19 493.2v-2M332.19 968.4v2M339.89 481.7v2M339.89 493.2v-2M339.89 968.4v2M347.58 481.7v2M347.58 493.2v-2M347.58 968.4v2M355.28 481.7v2M355.28 493.2v-2M355.28 968.4v2M362.98 481.7v2M362.98 493.2v-2M362.98 968.4v2M370.67 481.7v2M370.67 493.2v-2M370.67 968.4v2M378.37 481.7v2M378.37 493.2v-2M378.37 968.4v2M386.06 481.7v2M386.06 493.2v-2M386.06 968.4v2M393.75 481.7v2M393.75 493.2v-2M393.75 968.4v2M401.45 481.7v2M401.45 493.2v-2M401.45 968.4v2M409.14 481.7v2M409.14 493.2v-2M409.14 968.4v2M416.84 481.7v2M416.84 493.2v-2M416.84 968.4v2M424.54 481.7v2M424.54 493.2v-2M424.54 968.4v2M432.23 481.7v2M432.23 493.2v-2M432.23 968.4v2M439.93 481.7v2M439.93 493.2v-2M439.93 968.4v2M447.62 481.7v2M447.62 493.2v-2M447.62 968.4v2M455.31 481.7v2M455.31 493.2v-2M455.31 968.4v2M463.01 481.7v2M463.01 493.2v-2M463.01 968.4v2M470.7 481.7v2M470.7 493.2v-2M470.7 968.4v2M478.4 481.7v2M478.4 493.2v-2M478.4 968.4v2M486.1 481.7v2M486.1 493.2v-2M486.1 968.4v2M493.79 481.7v2M493.79 493.2v-2M493.79 968.4v2M501.49 481.7v2M501.49 493.2v-2M501.49 968.4v2M509.18 481.7v2M509.18 493.2v-2M509.18 968.4v2M516.88 481.7v2M516.88 493.2v-2M516.88 968.4v2M524.57 481.7v2M524.57 493.2v-2M524.57 968.4v2M532.27 481.7v2M532.27 493.2v-2M532.27 968.4v2M539.96 481.7v2M539.96 493.2v-2M539.96 968.4v2M547.66 481.7v2M547.66 493.2v-2M547.66 968.4v2M555.35 481.7v2M555.35 493.2v-2M555.35 968.4v2M563.05 481.7v2M563.05 493.2v-2M563.05 968.4v2M570.74 481.7v2M570.74 493.2v-2M570.74 968.4v2M578.44 481.7v2M578.44 493.2v-2M578.44 968.4v2M586.13 481.7v2M586.13 493.2v-2M586.13 968.4v2M593.83 481.7v2M593.83 493.2v-2M593.83 968.4v2M601.52 481.7v2M601.52 493.2v-2M601.52 968.4v2M609.22 481.7v2M609.22 493.2v-2M609.22 968.4v2M616.91 481.7v2M616.91 493.2v-2M616.91 968.4v2M624.61 481.7v2M624.61 493.2v-2M624.61 968.4v2M632.3 481.7v2M632.3 493.2v-2M632.3 968.4v2M640 481.7v2M640 493.2v-2M640 968.4v2M647.69 481.7v2M647.69 493.2v-2M647.69 968.4v2M655.39 481.7v2M655.39 493.2v-2M655.39 968.4v2M663.08 481.7v2M663.08 493.2v-2M663.08 968.4v2M670.78 481.7v2M670.78 493.2v-2M670.78 968.4v2M678.47 481.7v2M678.47 493.2v-2M678.47 968.4v2M686.17 481.7v2M686.17 493.2v-2M686.17 968.4v2M693.86 481.7v2M693.86 493.2v-2M693.86 968.4v2M701.56 481.7v2M701.56 493.2v-2M701.56 968.4v2M709.25 481.7v2M709.25 493.2v-2M709.25 968.4v2M716.95 481.7v2M716.95 493.2v-2M716.95 968.4v2M724.64 481.7v2M724.64 493.2v-2M724.64 968.4v2M732.34 481.7v2M732.34 493.2v-2M732.34 968.4v2M740.03 481.7v2M740.03 493.2v-2M740.03 968.4v2M747.73 481.7v2M747.73 493.2v-2M747.73 968.4v2M755.42 481.7v2M755.42 493.2v-2M755.42 968.4v2M763.12 481.7v2M763.12 493.2v-2M763.12 968.4v2M770.81 481.7v2M770.81 493.2v-2M770.81 968.4v2M778.51 481.7v2M778.51 493.2v-2M778.51 968.4v2M786.2 481.7v2M786.2 493.2v-2M786.2 968.4v2M793.9 481.7v2M793.9 493.2v-2M793.9 968.4v2M801.59 481.7v2M801.59 493.2v-2M801.59 968.4v2M809.29 481.7v2M809.29 493.2v-2M809.29 968.4v2M816.98 481.7v2M816.98 493.2v-2M816.98 968.4v2M824.68 481.7v2M824.68 493.2v-2M824.68 968.4v2M832.37 481.7v2M832.37 493.2v-2M832.37 968.4v2M840.07 481.7v2M840.07 493.2v-2M840.07 968.4v2M847.76 481.7v2M847.76 493.2v-2M847.76 968.4v2M855.46 481.7v2M855.46 493.2v-2M855.46 968.4v2M863.15 481.7v2M863.15 493.2v-2M863.15 968.4v2M870.85 481.7v2M870.85 493.2v-2M870.85 968.4v2M878.54 481.7v2M878.54 493.2v-2M878.54 968.4v2M886.24 481.7v2M886.24 493.2v-2M886.24 968.4v2M893.93 481.7v2M893.93 493.2v-2M893.93 968.4v2M901.63 481.7v2M901.63 493.2v-2M901.63 968.4v2M909.32 481.7v2M909.32 493.2v-2M909.32 968.4v2M917.02 481.7v2M917.02 493.2v-2M917.02 968.4v2M924.71 481.7v2M924.71 493.2v-2M924.71 968.4v2M932.41 481.7v2M932.41 493.2v-2M932.41 968.4v2M940.1 481.7v2M940.1 493.2v-2M940.1 968.4v2M947.8 481.7v2M947.8 493.2v-2M947.8 968.4v2M955.49 481.7v2M955.49 493.2v-2M955.49 968.4v2M963.19 481.7v2M963.19 493.2v-2M963.19 968.4v2M970.88 481.7v2M970.88 493.2v-2M970.88 968.4v2M978.58 481.7v2M978.58 493.2v-2M978.58 968.4v2" stroke="#b9b8c8" stroke-width="1"/>
</g>
<g id="text">
<text x="13.3" y="11.1" font-size="11.5" font-weight="bold" textLength="27" lengthAdjust="spacing" fill="#000" stroke="#000" stroke-width="0.35">$SPX</text>
<text x="43.9" y="11.1" font-size="9.2" textLength="100" lengthAdjust="spacing" fill="#111" stroke="#111" stroke-width="0.2">S&amp;P 500 Large Cap Index</text>
<text x="148.8" y="11.1" font-size="7.6" textLength="18.8" lengthAdjust="spacing" fill="#111" stroke="#111" stroke-width="0.2">INDX</text>
<text x="13.3" y="21.1" font-size="8.2" textLength="48.2" lengthAdjust="spacing" fill="#111" stroke="#111" stroke-width="0.25">22-Oct-2024</text>
<text x="911.9" y="10.3" font-size="8.5" textLength="73" lengthAdjust="spacing" fill="#6a6a6a">©StockCharts.com</text>
<text x="589.7" y="21.2" font-size="9" font-weight="bold" textLength="23.6" lengthAdjust="spacing" fill="#000">Open</text>
<text x="615.4" y="21.2" font-size="9" textLength="31.8" lengthAdjust="spacing" fill="#222">5857.82</text>
<text x="652.6" y="21.2" font-size="9" font-weight="bold" textLength="19.4" lengthAdjust="spacing" fill="#000">High</text>
<text x="675.2" y="21.2" font-size="9" textLength="31.1" lengthAdjust="spacing" fill="#222">5866.92</text>
<text x="711.5" y="21.2" font-size="9" font-weight="bold" textLength="18.9" lengthAdjust="spacing" fill="#000">Low</text>
<text x="733.6" y="21.2" font-size="9" textLength="31.1" lengthAdjust="spacing" fill="#222">5821.17</text>
<text x="771" y="21.2" font-size="9" font-weight="bold" textLength="24.9" lengthAdjust="spacing" fill="#000">Close</text>
<text x="799.4" y="21.2" font-size="9" textLength="31.6" lengthAdjust="spacing" fill="#222">5851.20</text>
<text x="837.3" y="21.2" font-size="9" font-weight="bold" textLength="32.8" lengthAdjust="spacing" fill="#000">Volume</text>
<text x="874.1" y="21.2" font-size="9" textLength="17.1" lengthAdjust="spacing" fill="#222">2.1B</text>
<text x="897.1" y="21.2" font-size="9" font-weight="bold" textLength="17.1" lengthAdjust="spacing" fill="#000">Chg</text>
<text x="917.5" y="21.2" font-size="9" textLength="59.3" lengthAdjust="spacing" fill="#222">-13.47 (-0.23%)</text>
<polygon points="979,16.9 984.6,16.9 981.8,20" fill="#d0143c"/>
<text x="997.3" y="43.1" font-size="8.5" text-anchor="end" fill="#1a1a1a">90</text>
<text x="997.3" y="64.6" font-size="8.5" text-anchor="end" fill="#1a1a1a">70</text>
<text x="997.3" y="86.1" font-size="8.5" text-anchor="end" fill="#1a1a1a">50</text>
<text x="997.3" y="107.6" font-size="8.5" text-anchor="end" fill="#1a1a1a">30</text>
<text x="997.3" y="129.1" font-size="8.5" text-anchor="end" fill="#1a1a1a">10</text>
<path d="M985.3 40.1h2.3M985.3 61.6h2.3M985.3 83.1h2.3M985.3 104.6h2.3M985.3 126.1h2.3" stroke="#555" stroke-width="1" fill="none"/>
<path d="M985.6 29.35h1.4M985.6 34.72h1.4M985.6 40.1h1.4M985.6 45.47h1.4M985.6 50.85h1.4M985.6 56.22h1.4M985.6 61.6h1.4M985.6 66.97h1.4M985.6 72.35h1.4M985.6 77.72h1.4M985.6 83.1h1.4M985.6 88.47h1.4M985.6 93.85h1.4M985.6 99.22h1.4M985.6 104.6h1.4M985.6 109.97h1.4M985.6 115.35h1.4M985.6 120.72h1.4M985.6 126.1h1.4M985.6 131.47h1.4M985.6 136.85h1.4" stroke="#8e8da8" stroke-width="1" fill="none"/>
<text x="1006.8" y="473.71" font-size="8.5" text-anchor="end" fill="#1a1a1a">3600</text>
<text x="1006.8" y="459.93" font-size="8.5" text-anchor="end" fill="#1a1a1a">3700</text>
<text x="1006.8" y="446.16" font-size="8.5" text-anchor="end" fill="#1a1a1a">3800</text>
<text x="1006.8" y="432.38" font-size="8.5" text-anchor="end" fill="#1a1a1a">3900</text>
<text x="1006.8" y="418.61" font-size="8.5" text-anchor="end" fill="#1a1a1a">4000</text>
<text x="1006.8" y="404.84" font-size="8.5" text-anchor="end" fill="#1a1a1a">4100</text>
<text x="1006.8" y="391.06" font-size="8.5" text-anchor="end" fill="#1a1a1a">4200</text>
<text x="1006.8" y="377.29" font-size="8.5" text-anchor="end" fill="#1a1a1a">4300</text>
<text x="1006.8" y="363.51" font-size="8.5" text-anchor="end" fill="#1a1a1a">4400</text>
<text x="1006.8" y="349.74" font-size="8.5" text-anchor="end" fill="#1a1a1a">4500</text>
<text x="1006.8" y="335.97" font-size="8.5" text-anchor="end" fill="#1a1a1a">4600</text>
<text x="1006.8" y="322.19" font-size="8.5" text-anchor="end" fill="#1a1a1a">4700</text>
<text x="1006.8" y="308.42" font-size="8.5" text-anchor="end" fill="#1a1a1a">4800</text>
<text x="1006.8" y="294.64" font-size="8.5" text-anchor="end" fill="#1a1a1a">4900</text>
<text x="1006.8" y="280.87" font-size="8.5" text-anchor="end" fill="#1a1a1a">5000</text>
<text x="1006.8" y="267.1" font-size="8.5" text-anchor="end" fill="#1a1a1a">5100</text>
<text x="1006.8" y="253.32" font-size="8.5" text-anchor="end" fill="#1a1a1a">5200</text>
<text x="1006.8" y="239.55" font-size="8.5" text-anchor="end" fill="#1a1a1a">5300</text>
<text x="1006.8" y="225.77" font-size="8.5" text-anchor="end" fill="#1a1a1a">5400</text>
<text x="1006.8" y="212" font-size="8.5" text-anchor="end" fill="#1a1a1a">5500</text>
<text x="1006.8" y="198.23" font-size="8.5" text-anchor="end" fill="#1a1a1a">5600</text>
<text x="1006.8" y="184.45" font-size="8.5" text-anchor="end" fill="#1a1a1a">5700</text>
<text x="1006.8" y="170.68" font-size="8.5" text-anchor="end" fill="#1a1a1a">5800</text>
<text x="1006.8" y="156.9" font-size="8.5" text-anchor="end" fill="#1a1a1a">5900</text>
<path d="M985.3 471.61h2.3M985.3 457.83h2.3M985.3 444.06h2.3M985.3 430.28h2.3M985.3 416.51h2.3M985.3 402.74h2.3M985.3 388.96h2.3M985.3 375.19h2.3M985.3 361.41h2.3M985.3 347.64h2.3M985.3 333.87h2.3M985.3 320.09h2.3M985.3 306.32h2.3M985.3 292.54h2.3M985.3 278.77h2.3M985.3 265h2.3M985.3 251.22h2.3M985.3 237.45h2.3M985.3 223.67h2.3M985.3 209.9h2.3M985.3 196.13h2.3M985.3 182.35h2.3M985.3 168.58h2.3M985.3 154.8h2.3" stroke="#555" stroke-width="1" fill="none"/>
<path d="M985.6 154.8h1.4M985.6 161.69h1.4M985.6 168.58h1.4M985.6 175.47h1.4M985.6 182.35h1.4M985.6 189.24h1.4M985.6 196.13h1.4M985.6 203.01h1.4M985.6 209.9h1.4M985.6 216.79h1.4M985.6 223.67h1.4M985.6 230.56h1.4M985.6 237.45h1.4M985.6 244.34h1.4M985.6 251.22h1.4M985.6 258.11h1.4M985.6 265h1.4M985.6 271.88h1.4M985.6 278.77h1.4M985.6 285.66h1.4M985.6 292.54h1.4M985.6 299.43h1.4M985.6 306.32h1.4M985.6 313.2h1.4M985.6 320.09h1.4M985.6 326.98h1.4M985.6 333.87h1.4M985.6 340.75h1.4M985.6 347.64h1.4M985.6 354.53h1.4M985.6 361.41h1.4M985.6 368.3h1.4M985.6 375.19h1.4M985.6 382.07h1.4M985.6 388.96h1.4M985.6 395.85h1.4M985.6 402.74h1.4M985.6 409.62h1.4M985.6 416.51h1.4M985.6 423.4h1.4M985.6 430.28h1.4M985.6 437.17h1.4M985.6 444.06h1.4M985.6 450.94h1.4M985.6 457.83h1.4M985.6 464.72h1.4M985.6 471.61h1.4" stroke="#8e8da8" stroke-width="1" fill="none"/>
<text x="1010.3" y="502.8" font-size="8.5" text-anchor="end" fill="#1a1a1a">20.0B</text>
<text x="1010.3" y="516.7" font-size="8.5" text-anchor="end" fill="#1a1a1a">17.5B</text>
<text x="1010.3" y="530.6" font-size="8.5" text-anchor="end" fill="#1a1a1a">15.0B</text>
<text x="1010.3" y="544.5" font-size="8.5" text-anchor="end" fill="#1a1a1a">12.5B</text>
<text x="1010.3" y="558.4" font-size="8.5" text-anchor="end" fill="#1a1a1a">10.0B</text>
<text x="1010.3" y="572.3" font-size="8.5" text-anchor="end" fill="#1a1a1a">7.5B</text>
<text x="1010.3" y="586.2" font-size="8.5" text-anchor="end" fill="#1a1a1a">5.0B</text>
<text x="1010.3" y="600.1" font-size="8.5" text-anchor="end" fill="#1a1a1a">2.5B</text>
<path d="M985.3 500h2.3M985.3 513.9h2.3M985.3 527.8h2.3M985.3 541.7h2.3M985.3 555.6h2.3M985.3 569.5h2.3M985.3 583.4h2.3M985.3 597.3h2.3" stroke="#555" stroke-width="1" fill="none"/>
<path d="M985.6 500h1.4M985.6 506.95h1.4M985.6 513.9h1.4M985.6 520.85h1.4M985.6 527.8h1.4M985.6 534.75h1.4M985.6 541.7h1.4M985.6 548.65h1.4M985.6 555.6h1.4M985.6 562.55h1.4M985.6 569.5h1.4M985.6 576.45h1.4M985.6 583.4h1.4M985.6 590.35h1.4M985.6 597.3h1.4M985.6 604.25h1.4M985.6 611.2h1.4" stroke="#8e8da8" stroke-width="1" fill="none"/>
<text x="1004.8" y="622.3" font-size="8.5" text-anchor="end" fill="#1a1a1a">200</text>
<text x="1004.8" y="637.85" font-size="8.5" text-anchor="end" fill="#1a1a1a">150</text>
<text x="1004.8" y="653.4" font-size="8.5" text-anchor="end" fill="#1a1a1a">100</text>
<text x="1004.8" y="668.95" font-size="8.5" text-anchor="end" fill="#1a1a1a">50</text>
<text x="1004.8" y="684.5" font-size="8.5" text-anchor="end" fill="#1a1a1a">0</text>
<text x="1004.8" y="700.05" font-size="8.5" text-anchor="end" fill="#1a1a1a">-50</text>
<text x="1004.8" y="715.6" font-size="8.5" text-anchor="end" fill="#1a1a1a">-100</text>
<text x="1004.8" y="731.15" font-size="8.5" text-anchor="end" fill="#1a1a1a">-150</text>
<path d="M985.3 619.3h2.3M985.3 634.85h2.3M985.3 650.4h2.3M985.3 665.95h2.3M985.3 681.5h2.3M985.3 697.05h2.3M985.3 712.6h2.3M985.3 728.15h2.3" stroke="#555" stroke-width="1" fill="none"/>
<path d="M985.6 619.3h1.4M985.6 627.07h1.4M985.6 634.85h1.4M985.6 642.62h1.4M985.6 650.4h1.4M985.6 658.17h1.4M985.6 665.95h1.4M985.6 673.72h1.4M985.6 681.5h1.4M985.6 689.27h1.4M985.6 697.05h1.4M985.6 704.82h1.4M985.6 712.6h1.4M985.6 720.37h1.4M985.6 728.15h1.4" stroke="#8e8da8" stroke-width="1" fill="none"/>
<text x="1000" y="743.45" font-size="8.5" text-anchor="end" fill="#1a1a1a">40</text>
<text x="1000" y="755.35" font-size="8.5" text-anchor="end" fill="#1a1a1a">30</text>
<text x="1000" y="767.25" font-size="8.5" text-anchor="end" fill="#1a1a1a">20</text>
<text x="1000" y="779.15" font-size="8.5" text-anchor="end" fill="#1a1a1a">10</text>
<text x="1000" y="791.05" font-size="8.5" text-anchor="end" fill="#1a1a1a">0</text>
<text x="1000" y="802.95" font-size="8.5" text-anchor="end" fill="#1a1a1a">-10</text>
<text x="1000" y="814.85" font-size="8.5" text-anchor="end" fill="#1a1a1a">-20</text>
<text x="1000" y="826.75" font-size="8.5" text-anchor="end" fill="#1a1a1a">-30</text>
<text x="1000" y="838.65" font-size="8.5" text-anchor="end" fill="#1a1a1a">-40</text>
<path d="M985.3 740.15h2.3M985.3 752.05h2.3M985.3 763.95h2.3M985.3 775.85h2.3M985.3 787.75h2.3M985.3 799.65h2.3M985.3 811.55h2.3M985.3 823.45h2.3M985.3 835.35h2.3" stroke="#555" stroke-width="1" fill="none"/>
<text x="1000" y="849.95" font-size="8.5" text-anchor="end" fill="#1a1a1a">-50</text>
<path d="M985.3 847.25h2.3" stroke="#555" stroke-width="1" fill="none"/>
<path d="M985.6 740.15h1.4M985.6 746.1h1.4M985.6 752.05h1.4M985.6 758h1.4M985.6 763.95h1.4M985.6 769.9h1.4M985.6 775.85h1.4M985.6 781.8h1.4M985.6 787.75h1.4M985.6 793.7h1.4M985.6 799.65h1.4M985.6 805.6h1.4M985.6 811.55h1.4M985.6 817.5h1.4M985.6 823.45h1.4M985.6 829.4h1.4M985.6 835.35h1.4M985.6 841.3h1.4M985.6 847.25h1.4" stroke="#8e8da8" stroke-width="1" fill="none"/>
<text x="997.3" y="880.62" font-size="8.5" text-anchor="end" fill="#1a1a1a">80</text>
<text x="997.3" y="912.5" font-size="8.5" text-anchor="end" fill="#1a1a1a">50</text>
<text x="997.3" y="944.38" font-size="8.5" text-anchor="end" fill="#1a1a1a">20</text>
<path d="M985.3 877.62h2.3M985.3 909.5h2.3M985.3 941.38h2.3" stroke="#555" stroke-width="1" fill="none"/>
<path d="M985.6 856.38h1.4M985.6 861.69h1.4M985.6 867h1.4M985.6 872.31h1.4M985.6 877.62h1.4M985.6 882.94h1.4M985.6 888.25h1.4M985.6 893.56h1.4M985.6 898.88h1.4M985.6 904.19h1.4M985.6 909.5h1.4M985.6 914.81h1.4M985.6 920.12h1.4M985.6 925.44h1.4M985.6 930.75h1.4M985.6 936.06h1.4M985.6 941.38h1.4M985.6 946.69h1.4M985.6 952h1.4M985.6 957.31h1.4M985.6 962.62h1.4" stroke="#8e8da8" stroke-width="1" fill="none"/>
<polygon points="983.2,62.5 986.6,58.4 1010.48,58.4 1010.48,66.6 986.6,66.6" fill="#fff" stroke="#444" stroke-width="1.1" stroke-linejoin="miter"/>
<text x="987.6" y="65.6" font-size="8.5" textLength="21.28" lengthAdjust="spacing" fill="#111">68.34</text>
<polygon points="983.2,247 986.6,242.9 1019.94,242.9 1019.94,251.1 986.6,251.1" fill="#fff" stroke="#2e8b3a" stroke-width="1.1" stroke-linejoin="miter"/>
<text x="987.6" y="250.1" font-size="8.5" textLength="30.74" lengthAdjust="spacing" fill="#111">5228.80</text>
<polygon points="983.2,240.5 986.6,236.4 1019.94,236.4 1019.94,244.6 986.6,244.6" fill="#fff" stroke="#9bb8a7" stroke-width="1.1" stroke-linejoin="miter"/>
<text x="987.6" y="243.6" font-size="8.5" textLength="30.74" lengthAdjust="spacing" fill="#111">5273.63</text>
<polygon points="983.2,197 986.6,192.9 1019.94,192.9 1019.94,201.1 986.6,201.1" fill="#fff" stroke="#9bb8a7" stroke-width="1.1" stroke-linejoin="miter"/>
<text x="987.6" y="200.1" font-size="8.5" textLength="30.74" lengthAdjust="spacing" fill="#111">5589.42</text>
<polygon points="983.2,181.2 986.6,177.1 1019.94,177.1 1019.94,185.3 986.6,185.3" fill="#fff" stroke="#dc2e52" stroke-width="1.3" stroke-linejoin="miter"/>
<text x="987.6" y="184.3" font-size="8.5" textLength="30.74" lengthAdjust="spacing" fill="#111">5704.01</text>
<polygon points="983.2,153.5 986.6,149.4 1019.94,149.4 1019.94,157.6 986.6,157.6" fill="#fff" stroke="#9bb8a7" stroke-width="1.1" stroke-linejoin="miter"/>
<text x="987.6" y="156.6" font-size="8.5" textLength="30.74" lengthAdjust="spacing" fill="#111">5905.21</text>
<polygon points="983.2,160.9 986.6,156.6 1020.1,156.6 1020.1,165.2 986.6,165.2" fill="#fff" stroke="#222" stroke-width="1.6" stroke-linejoin="miter"/>
<text x="987.6" y="164" font-size="8.0" font-weight="bold" textLength="30.9" lengthAdjust="spacing" fill="#111">5851.20</text>
<polygon points="983.2,353 986.6,348.9 1019.94,348.9 1019.94,357.1 986.6,357.1" fill="#fff" stroke="#2a2ab0" stroke-width="1.2" stroke-linejoin="miter"/>
<text x="987.6" y="356.1" font-size="8.5" textLength="30.74" lengthAdjust="spacing" fill="#111">4456.41</text>
<polygon points="983.2,599.3 986.6,595.2 1036.5,595.2 1036.5,603.4 986.6,603.4" fill="#fff" stroke="#333" stroke-width="1.1" stroke-linejoin="miter"/>
<text x="987.6" y="602.4" font-size="8.5" textLength="47.3" lengthAdjust="spacing" fill="#111">2104658304</text>
<polygon points="983.2,632.6 986.6,628.5 1019.94,628.5 1019.94,636.7 986.6,636.7" fill="#fff" stroke="#ee3a43" stroke-width="1.2" stroke-linejoin="miter"/>
<text x="987.6" y="635.7" font-size="8.5" textLength="30.74" lengthAdjust="spacing" fill="#111">161.385</text>
<polygon points="983.2,626.8 986.6,622.7 1019.94,622.7 1019.94,630.9 986.6,630.9" fill="#fff" stroke="#333" stroke-width="1.3" stroke-linejoin="miter"/>
<text x="987.6" y="629.9" font-size="8.5" textLength="30.74" lengthAdjust="spacing" fill="#111">173.447</text>
<polygon points="983.2,677.7 986.6,673.6 1015.21,673.6 1015.21,681.8 986.6,681.8" fill="#fff" stroke="#3f7fd0" stroke-width="1.2" stroke-linejoin="miter"/>
<text x="987.6" y="680.8" font-size="8.5" textLength="26.01" lengthAdjust="spacing" fill="#111">12.061</text>
<polygon points="983.2,773.9 986.6,769.8 1015.21,769.8 1015.21,778 986.6,778" fill="#fff" stroke="#3f7fd0" stroke-width="1.2" stroke-linejoin="miter"/>
<text x="987.6" y="777" font-size="8.5" textLength="26.01" lengthAdjust="spacing" fill="#111">12.061</text>
<polygon points="983.2,857.8 986.6,853.7 1010.48,853.7 1010.48,861.9 986.6,861.9" fill="#fff" stroke="#dc2e52" stroke-width="1.2" stroke-linejoin="miter"/>
<text x="987.6" y="860.9" font-size="8.5" textLength="21.28" lengthAdjust="spacing" fill="#111">97.80</text>
<polygon points="983.2,857.4 986.6,853.3 1010.48,853.3 1010.48,861.5 986.6,861.5" fill="#fff" stroke="#333" stroke-width="1.3" stroke-linejoin="miter"/>
<text x="987.6" y="860.5" font-size="8.5" textLength="21.28" lengthAdjust="spacing" fill="#111">97.86</text>
<text x="39.78" y="490.5" font-size="8" text-anchor="middle" fill="#222" stroke="#222" stroke-width="0.22">Nov</text>
<text x="39.78" y="977.8" font-size="8" text-anchor="middle" fill="#222" stroke="#222" stroke-width="0.22">Nov</text>
<text x="70.56" y="490.5" font-size="8" text-anchor="middle" fill="#222" stroke="#222" stroke-width="0.22">Dec</text>
<text x="70.56" y="977.8" font-size="8" text-anchor="middle" fill="#222" stroke="#222" stroke-width="0.22">Dec</text>
<text x="101.35" y="490.5" font-size="8.6" text-anchor="middle" font-weight="bold" fill="#000">2023</text>
<text x="101.35" y="977.8" font-size="8.6" text-anchor="middle" font-weight="bold" fill="#000">2023</text>
<text x="139.82" y="490.5" font-size="8" text-anchor="middle" fill="#222" stroke="#222" stroke-width="0.22">Feb</text>
<text x="139.82" y="977.8" font-size="8" text-anchor="middle" fill="#222" stroke="#222" stroke-width="0.22">Feb</text>
<text x="170.6" y="490.5" font-size="8" text-anchor="middle" fill="#222" stroke="#222" stroke-width="0.22">Mar</text>
<text x="170.6" y="977.8" font-size="8" text-anchor="middle" fill="#222" stroke="#222" stroke-width="0.22">Mar</text>
<text x="201.38" y="490.5" font-size="8" text-anchor="middle" fill="#222" stroke="#222" stroke-width="0.22">Apr</text>
<text x="201.38" y="977.8" font-size="8" text-anchor="middle" fill="#222" stroke="#222" stroke-width="0.22">Apr</text>
<text x="232.16" y="490.5" font-size="8" text-anchor="middle" fill="#222" stroke="#222" stroke-width="0.22">May</text>
<text x="232.16" y="977.8" font-size="8" text-anchor="middle" fill="#222" stroke="#222" stroke-width="0.22">May</text>
<text x="270.63" y="490.5" font-size="8" text-anchor="middle" fill="#222" stroke="#222" stroke-width="0.22">Jun</text>
<text x="270.63" y="977.8" font-size="8" text-anchor="middle" fill="#222" stroke="#222" stroke-width="0.22">Jun</text>
<text x="301.42" y="490.5" font-size="8" text-anchor="middle" fill="#222" stroke="#222" stroke-width="0.22">Jul</text>
<text x="301.42" y="977.8" font-size="8" text-anchor="middle" fill="#222" stroke="#222" stroke-width="0.22">Jul</text>
<text x="339.89" y="490.5" font-size="8" text-anchor="middle" fill="#222" stroke="#222" stroke-width="0.22">Aug</text>
<text x="339.89" y="977.8" font-size="8" text-anchor="middle" fill="#222" stroke="#222" stroke-width="0.22">Aug</text>
<text x="370.67" y="490.5" font-size="8" text-anchor="middle" fill="#222" stroke="#222" stroke-width="0.22">Sep</text>
<text x="370.67" y="977.8" font-size="8" text-anchor="middle" fill="#222" stroke="#222" stroke-width="0.22">Sep</text>
<text x="401.45" y="490.5" font-size="8" text-anchor="middle" fill="#222" stroke="#222" stroke-width="0.22">Oct</text>
<text x="401.45" y="977.8" font-size="8" text-anchor="middle" fill="#222" stroke="#222" stroke-width="0.22">Oct</text>
<text x="439.93" y="490.5" font-size="8" text-anchor="middle" fill="#222" stroke="#222" stroke-width="0.22">Nov</text>
<text x="439.93" y="977.8" font-size="8" text-anchor="middle" fill="#222" stroke="#222" stroke-width="0.22">Nov</text>
<text x="470.7" y="490.5" font-size="8" text-anchor="middle" fill="#222" stroke="#222" stroke-width="0.22">Dec</text>
<text x="470.7" y="977.8" font-size="8" text-anchor="middle" fill="#222" stroke="#222" stroke-width="0.22">Dec</text>
<text x="501.49" y="490.5" font-size="8.6" text-anchor="middle" font-weight="bold" fill="#000">2024</text>
<text x="501.49" y="977.8" font-size="8.6" text-anchor="middle" font-weight="bold" fill="#000">2024</text>
<text x="539.96" y="490.5" font-size="8" text-anchor="middle" fill="#222" stroke="#222" stroke-width="0.22">Feb</text>
<text x="539.96" y="977.8" font-size="8" text-anchor="middle" fill="#222" stroke="#222" stroke-width="0.22">Feb</text>
<text x="570.74" y="490.5" font-size="8" text-anchor="middle" fill="#222" stroke="#222" stroke-width="0.22">Mar</text>
<text x="570.74" y="977.8" font-size="8" text-anchor="middle" fill="#222" stroke="#222" stroke-width="0.22">Mar</text>
<text x="601.52" y="490.5" font-size="8" text-anchor="middle" fill="#222" stroke="#222" stroke-width="0.22">Apr</text>
<text x="601.52" y="977.8" font-size="8" text-anchor="middle" fill="#222" stroke="#222" stroke-width="0.22">Apr</text>
<text x="640" y="490.5" font-size="8" text-anchor="middle" fill="#222" stroke="#222" stroke-width="0.22">May</text>
<text x="640" y="977.8" font-size="8" text-anchor="middle" fill="#222" stroke="#222" stroke-width="0.22">May</text>
<text x="670.78" y="490.5" font-size="8" text-anchor="middle" fill="#222" stroke="#222" stroke-width="0.22">Jun</text>
<text x="670.78" y="977.8" font-size="8" text-anchor="middle" fill="#222" stroke="#222" stroke-width="0.22">Jun</text>
<text x="701.56" y="490.5" font-size="8" text-anchor="middle" fill="#222" stroke="#222" stroke-width="0.22">Jul</text>
<text x="701.56" y="977.8" font-size="8" text-anchor="middle" fill="#222" stroke="#222" stroke-width="0.22">Jul</text>
<text x="740.03" y="490.5" font-size="8" text-anchor="middle" fill="#222" stroke="#222" stroke-width="0.22">Aug</text>
<text x="740.03" y="977.8" font-size="8" text-anchor="middle" fill="#222" stroke="#222" stroke-width="0.22">Aug</text>
<text x="770.81" y="490.5" font-size="8" text-anchor="middle" fill="#222" stroke="#222" stroke-width="0.22">Sep</text>
<text x="770.81" y="977.8" font-size="8" text-anchor="middle" fill="#222" stroke="#222" stroke-width="0.22">Sep</text>
<text x="809.29" y="490.5" font-size="8" text-anchor="middle" fill="#222" stroke="#222" stroke-width="0.22">Oct</text>
<text x="809.29" y="977.8" font-size="8" text-anchor="middle" fill="#222" stroke="#222" stroke-width="0.22">Oct</text>
<text x="840.07" y="490.5" font-size="8" text-anchor="middle" fill="#222" stroke="#222" stroke-width="0.22">Nov</text>
<text x="840.07" y="977.8" font-size="8" text-anchor="middle" fill="#222" stroke="#222" stroke-width="0.22">Nov</text>
<text x="870.85" y="490.5" font-size="8" text-anchor="middle" fill="#222" stroke="#222" stroke-width="0.22">Dec</text>
<text x="870.85" y="977.8" font-size="8" text-anchor="middle" fill="#222" stroke="#222" stroke-width="0.22">Dec</text>
<text x="909.32" y="490.5" font-size="8.6" text-anchor="middle" font-weight="bold" fill="#000">2025</text>
<text x="909.32" y="977.8" font-size="8.6" text-anchor="middle" font-weight="bold" fill="#000">2025</text>
<text x="940.1" y="490.5" font-size="8" text-anchor="middle" fill="#222" stroke="#222" stroke-width="0.22">Feb</text>
<text x="940.1" y="977.8" font-size="8" text-anchor="middle" fill="#222" stroke="#222" stroke-width="0.22">Feb</text>
<text x="970.88" y="490.5" font-size="8" text-anchor="middle" fill="#222" stroke="#222" stroke-width="0.22">Mar</text>
<text x="970.88" y="977.8" font-size="8" text-anchor="middle" fill="#222" stroke="#222" stroke-width="0.22">Mar</text>
<text x="26" y="31.8" font-size="7.7" textLength="63.8" lengthAdjust="spacingAndGlyphs" style="font-family:'DejaVu Sans','Liberation Sans',sans-serif" fill="#222" stroke="#222" stroke-width="0.2">RSI(14) 68.34</text>
<polygon points="15.2,31.9 18.9,25.2 20.5,29.2 22.7,27.2 22.7,31.9" fill="#5f9a6a"/><polyline points="15.2,31.9 18.9,25.2 20.5,29.2 22.7,27.2 22.7,31.9" fill="none" stroke="#1c2a20" stroke-width="0.9" stroke-linejoin="round"/>
<text x="25.9" y="150.4" font-size="7.7" textLength="108" lengthAdjust="spacingAndGlyphs" style="font-family:'DejaVu Sans','Liberation Sans',sans-serif" fill="#111" stroke="#222" stroke-width="0.2">$SPX (Weekly) 5851.20</text>
<path d="M16.5 144.2v6.6M20 144.2v6.6" stroke="#111" stroke-width="0.9"/><rect x="15.2" y="145.3" width="2.6" height="4" fill="#fff" stroke="#111" stroke-width="0.8"/><rect x="18.8" y="145.8" width="2.6" height="3.8" fill="#111"/>
<text x="23.9" y="159.4" font-size="8" textLength="138" lengthAdjust="spacing" fill="#9ab2a7" stroke="#9ab2a7" stroke-width="0.25">BB(20,2.0) 5273.63 - 5589.42 - 5905.21</text>
<polygon points="15.2,160 18.9,153.3 20.5,157.3 22.7,155.3 22.7,160" fill="#b9bfca"/>
<text x="23.9" y="168.4" font-size="8" textLength="56.8" lengthAdjust="spacing" fill="#dc143c" stroke="#dc143c" stroke-width="0.3">MA(10) 5704.01</text>
<path d="M15.6 165.5h7" stroke="#dc143c" stroke-width="1.8"/>
<text x="23.9" y="177.4" font-size="8" textLength="56.8" lengthAdjust="spacing" fill="#1c7c24" stroke="#1c7c24" stroke-width="0.3">MA(50) 5228.80</text>
<path d="M15.6 174.5h7" stroke="#1c7c24" stroke-width="1.8"/>
<text x="23.9" y="186.4" font-size="8" textLength="60.8" lengthAdjust="spacing" fill="#1e1e96" stroke="#1e1e96" stroke-width="0.3">MA(200) 4456.41</text>
<path d="M15.6 183.5h7" stroke="#1e1e96" stroke-width="1.8"/>
<text x="25.5" y="502" font-size="7.7" textLength="104" lengthAdjust="spacingAndGlyphs" style="font-family:'DejaVu Sans','Liberation Sans',sans-serif" fill="#222" stroke="#222" stroke-width="0.2">Volume 2,104,658,304</text>
<path d="M16.3 501.6v-3.5M18.3 501.6v-6M20.3 501.6v-5M22.3 501.6v-4.2" stroke="#555" stroke-width="1.5"/>
<text x="25.5" y="620.8" font-size="7.7" style="font-family:'DejaVu Sans','Liberation Sans',sans-serif" textLength="192" lengthAdjust="spacingAndGlyphs" fill="#222" stroke="#222" stroke-width="0.2">MACD(12,26,9) 173.447<tspan fill="#e8202a" stroke="#e8202a">, 161.385</tspan><tspan fill="#4a9bcb" stroke="#4a9bcb">, 12.061</tspan></text>
<path d="M15.5 618.3h6.5" stroke="#111" stroke-width="1.8"/>
<text x="25.5" y="739" font-size="7.7" textLength="124.5" lengthAdjust="spacingAndGlyphs" style="font-family:'DejaVu Sans','Liberation Sans',sans-serif" fill="#222" stroke="#222" stroke-width="0.2">MACD(12,26,9) Hist 12.061</text>
<path d="M16.3 738.6v-3.5M18.3 738.6v-6M20.3 738.6v-5M22.3 738.6v-4.2" stroke="#3a6fc4" stroke-width="1.5"/>
<text x="25.5" y="857.5" font-size="7.7" style="font-family:'DejaVu Sans','Liberation Sans',sans-serif" textLength="178.3" lengthAdjust="spacingAndGlyphs" fill="#222" stroke="#222" stroke-width="0.2">Full STO %K(14,3) %D(3) 97.86<tspan fill="#e8202a" stroke="#e8202a">, 97.80</tspan></text>
<path d="M15.5 855h6.5" stroke="#111" stroke-width="1.8"/>
<rect x="323.4" y="195.8" width="223.4" height="26.4" fill="#8a8a98" fill-opacity="0.5"/>
<rect x="322.2" y="194.6" width="223.4" height="26.4" fill="#fff" stroke="#9a9a9a" stroke-width="1"/>
<text x="324.6" y="214.2" font-size="17.6" textLength="204.6" lengthAdjust="spacing" fill="#111">sp`weekly1b, linear scale</text>
<polygon points="59.17,397.9 66.57,397.9 62.87,402.5" fill="#fff" fill-opacity="0.85" stroke="#c4c4cc" stroke-width="0.6"/>
<rect x="48.07" y="389.9" width="29.6" height="8.0" fill="#fff" fill-opacity="0.88" stroke="#b4b4c0" stroke-width="0.9"/>
<text x="62.87" y="396.6" font-size="7.6" text-anchor="middle" textLength="26.7" lengthAdjust="spacing" fill="#111" stroke="#111" stroke-width="0.25">4100.51</text>
<polygon points="82.25,454.4 89.66,454.4 85.95,449.1" fill="#fff" fill-opacity="0.85" stroke="#c4c4cc" stroke-width="0.6"/>
<rect x="71.16" y="454.4" width="29.6" height="8.0" fill="#fff" fill-opacity="0.88" stroke="#b4b4c0" stroke-width="0.9"/>
<text x="85.95" y="461.1" font-size="7.6" text-anchor="middle" textLength="26.7" lengthAdjust="spacing" fill="#111" stroke="#111" stroke-width="0.25">3764.49</text>
<polygon points="128.43,384.8 135.82,384.8 132.12,389.4" fill="#fff" fill-opacity="0.85" stroke="#c4c4cc" stroke-width="0.6"/>
<rect x="117.33" y="376.8" width="29.6" height="8.0" fill="#fff" fill-opacity="0.88" stroke="#b4b4c0" stroke-width="0.9"/>
<text x="132.12" y="383.5" font-size="7.6" text-anchor="middle" textLength="26.7" lengthAdjust="spacing" fill="#111" stroke="#111" stroke-width="0.25">4195.44</text>
<polygon points="174.59,448.3 181.99,448.3 178.29,443" fill="#fff" fill-opacity="0.85" stroke="#c4c4cc" stroke-width="0.6"/>
<rect x="163.49" y="448.3" width="29.6" height="8.0" fill="#fff" fill-opacity="0.88" stroke="#b4b4c0" stroke-width="0.9"/>
<text x="178.29" y="455" font-size="7.6" text-anchor="middle" textLength="26.7" lengthAdjust="spacing" fill="#111" stroke="#111" stroke-width="0.25">3808.86</text>
<polygon points="251.55,407.7 258.94,407.7 255.25,402.4" fill="#fff" fill-opacity="0.85" stroke="#c4c4cc" stroke-width="0.6"/>
<rect x="240.44" y="407.7" width="29.6" height="8.0" fill="#fff" fill-opacity="0.88" stroke="#b4b4c0" stroke-width="0.9"/>
<text x="255.25" y="414.4" font-size="7.6" text-anchor="middle" textLength="26.7" lengthAdjust="spacing" fill="#111" stroke="#111" stroke-width="0.25">4103.98</text>
<polygon points="274.63,349.9 282.03,349.9 278.33,354.5" fill="#fff" fill-opacity="0.85" stroke="#c4c4cc" stroke-width="0.6"/>
<rect x="263.53" y="341.9" width="29.6" height="8.0" fill="#fff" fill-opacity="0.88" stroke="#b4b4c0" stroke-width="0.9"/>
<text x="278.33" y="348.6" font-size="7.6" text-anchor="middle" textLength="26.7" lengthAdjust="spacing" fill="#111" stroke="#111" stroke-width="0.25">4448.47</text>
<polygon points="290.02,376.8 297.42,376.8 293.72,371.5" fill="#fff" fill-opacity="0.85" stroke="#c4c4cc" stroke-width="0.6"/>
<rect x="278.92" y="376.8" width="29.6" height="8.0" fill="#fff" fill-opacity="0.88" stroke="#b4b4c0" stroke-width="0.9"/>
<text x="293.72" y="383.5" font-size="7.6" text-anchor="middle" textLength="26.7" lengthAdjust="spacing" fill="#111" stroke="#111" stroke-width="0.25">4328.08</text>
<polygon points="320.8,328.1 328.2,328.1 324.5,332.7" fill="#fff" fill-opacity="0.85" stroke="#c4c4cc" stroke-width="0.6"/>
<rect x="309.7" y="320.1" width="29.6" height="8.0" fill="#fff" fill-opacity="0.88" stroke="#b4b4c0" stroke-width="0.9"/>
<text x="324.5" y="326.8" font-size="7.6" text-anchor="middle" textLength="26.7" lengthAdjust="spacing" fill="#111" stroke="#111" stroke-width="0.25">4607.07</text>
<polygon points="343.88,375.8 351.28,375.8 347.58,370.5" fill="#fff" fill-opacity="0.85" stroke="#c4c4cc" stroke-width="0.6"/>
<rect x="332.78" y="375.8" width="29.6" height="8.0" fill="#fff" fill-opacity="0.88" stroke="#b4b4c0" stroke-width="0.9"/>
<text x="347.58" y="382.5" font-size="7.6" text-anchor="middle" textLength="26.7" lengthAdjust="spacing" fill="#111" stroke="#111" stroke-width="0.25">4335.31</text>
<polygon points="359.28,337.2 366.68,337.2 362.98,341.8" fill="#fff" fill-opacity="0.85" stroke="#c4c4cc" stroke-width="0.6"/>
<rect x="348.18" y="329.2" width="29.6" height="8.0" fill="#fff" fill-opacity="0.88" stroke="#b4b4c0" stroke-width="0.9"/>
<text x="362.98" y="335.9" font-size="7.6" text-anchor="middle" textLength="26.7" lengthAdjust="spacing" fill="#111" stroke="#111" stroke-width="0.25">4541.25</text>
<polygon points="397.75,392.2 405.15,392.2 401.45,386.9" fill="#fff" fill-opacity="0.85" stroke="#c4c4cc" stroke-width="0.6"/>
<rect x="386.65" y="392.2" width="29.6" height="8.0" fill="#fff" fill-opacity="0.88" stroke="#b4b4c0" stroke-width="0.9"/>
<text x="401.45" y="398.9" font-size="7.6" text-anchor="middle" textLength="26.7" lengthAdjust="spacing" fill="#111" stroke="#111" stroke-width="0.25">4216.45</text>
<polygon points="413.14,357.5 420.54,357.5 416.84,362.1" fill="#fff" fill-opacity="0.85" stroke="#c4c4cc" stroke-width="0.6"/>
<rect x="402.04" y="349.5" width="29.6" height="8.0" fill="#fff" fill-opacity="0.88" stroke="#b4b4c0" stroke-width="0.9"/>
<text x="416.84" y="356.2" font-size="7.6" text-anchor="middle" textLength="26.7" lengthAdjust="spacing" fill="#111" stroke="#111" stroke-width="0.25">4393.57</text>
<polygon points="420.84,407.7 428.24,407.7 424.54,402.4" fill="#fff" fill-opacity="0.85" stroke="#c4c4cc" stroke-width="0.6"/>
<rect x="409.74" y="407.7" width="29.6" height="8.0" fill="#fff" fill-opacity="0.88" stroke="#b4b4c0" stroke-width="0.9"/>
<text x="424.54" y="414.4" font-size="7.6" text-anchor="middle" textLength="26.7" lengthAdjust="spacing" fill="#111" stroke="#111" stroke-width="0.25">4103.78</text>
<polygon points="490.09,302.4 497.49,302.4 493.79,307" fill="#fff" fill-opacity="0.85" stroke="#c4c4cc" stroke-width="0.6"/>
<rect x="478.99" y="294.4" width="29.6" height="8.0" fill="#fff" fill-opacity="0.88" stroke="#b4b4c0" stroke-width="0.9"/>
<text x="493.79" y="301.1" font-size="7.6" text-anchor="middle" textLength="26.7" lengthAdjust="spacing" fill="#111" stroke="#111" stroke-width="0.25">4793.30</text>
<polygon points="497.79,328.1 505.19,328.1 501.49,322.8" fill="#fff" fill-opacity="0.85" stroke="#c4c4cc" stroke-width="0.6"/>
<rect x="486.69" y="328.1" width="29.6" height="8.0" fill="#fff" fill-opacity="0.88" stroke="#b4b4c0" stroke-width="0.9"/>
<text x="501.49" y="334.8" font-size="7.6" text-anchor="middle" textLength="26.7" lengthAdjust="spacing" fill="#111" stroke="#111" stroke-width="0.25">4682.11</text>
<polygon points="590.12,237.5 597.53,237.5 593.83,242.1" fill="#fff" fill-opacity="0.85" stroke="#c4c4cc" stroke-width="0.6"/>
<rect x="579.03" y="229.5" width="29.6" height="8.0" fill="#fff" fill-opacity="0.88" stroke="#b4b4c0" stroke-width="0.9"/>
<text x="593.83" y="236.2" font-size="7.6" text-anchor="middle" textLength="26.7" lengthAdjust="spacing" fill="#111" stroke="#111" stroke-width="0.25">5264.85</text>
<polygon points="613.21,290.7 620.61,290.7 616.91,285.4" fill="#fff" fill-opacity="0.85" stroke="#c4c4cc" stroke-width="0.6"/>
<rect x="602.11" y="290.7" width="29.6" height="8.0" fill="#fff" fill-opacity="0.88" stroke="#b4b4c0" stroke-width="0.9"/>
<text x="616.91" y="297.4" font-size="7.6" text-anchor="middle" textLength="26.7" lengthAdjust="spacing" fill="#111" stroke="#111" stroke-width="0.25">4953.56</text>
<polygon points="651.69,226.9 659.09,226.9 655.39,231.5" fill="#fff" fill-opacity="0.85" stroke="#c4c4cc" stroke-width="0.6"/>
<rect x="640.59" y="218.9" width="29.6" height="8.0" fill="#fff" fill-opacity="0.88" stroke="#b4b4c0" stroke-width="0.9"/>
<text x="655.39" y="225.6" font-size="7.6" text-anchor="middle" textLength="26.7" lengthAdjust="spacing" fill="#111" stroke="#111" stroke-width="0.25">5341.88</text>
<polygon points="659.38,257.9 666.78,257.9 663.08,252.6" fill="#fff" fill-opacity="0.85" stroke="#c4c4cc" stroke-width="0.6"/>
<rect x="648.28" y="257.9" width="29.6" height="8.0" fill="#fff" fill-opacity="0.88" stroke="#b4b4c0" stroke-width="0.9"/>
<text x="663.08" y="264.6" font-size="7.6" text-anchor="middle" textLength="26.7" lengthAdjust="spacing" fill="#111" stroke="#111" stroke-width="0.25">5191.68</text>
<polygon points="713.25,181.7 720.65,181.7 716.95,186.3" fill="#fff" fill-opacity="0.85" stroke="#c4c4cc" stroke-width="0.6"/>
<rect x="702.15" y="173.7" width="29.6" height="8.0" fill="#fff" fill-opacity="0.88" stroke="#b4b4c0" stroke-width="0.9"/>
<text x="716.95" y="180.4" font-size="7.6" text-anchor="middle" textLength="26.7" lengthAdjust="spacing" fill="#111" stroke="#111" stroke-width="0.25">5669.67</text>
<polygon points="736.33,267.8 743.73,267.8 740.03,262.5" fill="#fff" fill-opacity="0.85" stroke="#c4c4cc" stroke-width="0.6"/>
<rect x="725.23" y="267.8" width="29.6" height="8.0" fill="#fff" fill-opacity="0.88" stroke="#b4b4c0" stroke-width="0.9"/>
<text x="740.03" y="274.5" font-size="7.6" text-anchor="middle" textLength="26.7" lengthAdjust="spacing" fill="#111" stroke="#111" stroke-width="0.25">5119.26</text>
<polygon points="759.42,184.2 766.82,184.2 763.12,188.8" fill="#fff" fill-opacity="0.85" stroke="#c4c4cc" stroke-width="0.6"/>
<rect x="748.32" y="176.2" width="29.6" height="8.0" fill="#fff" fill-opacity="0.88" stroke="#b4b4c0" stroke-width="0.9"/>
<text x="763.12" y="182.9" font-size="7.6" text-anchor="middle" textLength="26.7" lengthAdjust="spacing" fill="#111" stroke="#111" stroke-width="0.25">5651.62</text>
<polygon points="767.11,229.3 774.51,229.3 770.81,224" fill="#fff" fill-opacity="0.85" stroke="#c4c4cc" stroke-width="0.6"/>
<rect x="756.01" y="229.3" width="29.6" height="8.0" fill="#fff" fill-opacity="0.88" stroke="#b4b4c0" stroke-width="0.9"/>
<text x="770.81" y="236" font-size="7.6" text-anchor="middle" textLength="26.7" lengthAdjust="spacing" fill="#111" stroke="#111" stroke-width="0.25">5402.62</text>
<polygon points="813.28,153 820.68,153 816.98,157.6" fill="#fff" fill-opacity="0.85" stroke="#c4c4cc" stroke-width="0.6"/>
<rect x="802.18" y="145" width="29.6" height="8.0" fill="#fff" fill-opacity="0.88" stroke="#b4b4c0" stroke-width="0.9"/>
<text x="816.98" y="151.7" font-size="7.6" text-anchor="middle" textLength="26.7" lengthAdjust="spacing" fill="#111" stroke="#111" stroke-width="0.25">5878.46</text>
<path d="M617.5 287.3L762.5 258.7" stroke="#111" stroke-width="1.9" stroke-linecap="butt"/>
<path d="M740 262.2L832.5 157.6" stroke="#111" stroke-width="1.9" stroke-dasharray="6.5 3"/>
<path d="M740 197.3L832.5 158.2" stroke="#111" stroke-width="1.9" stroke-dasharray="6.5 3"/>
</g>
</svg>
</body></html>
